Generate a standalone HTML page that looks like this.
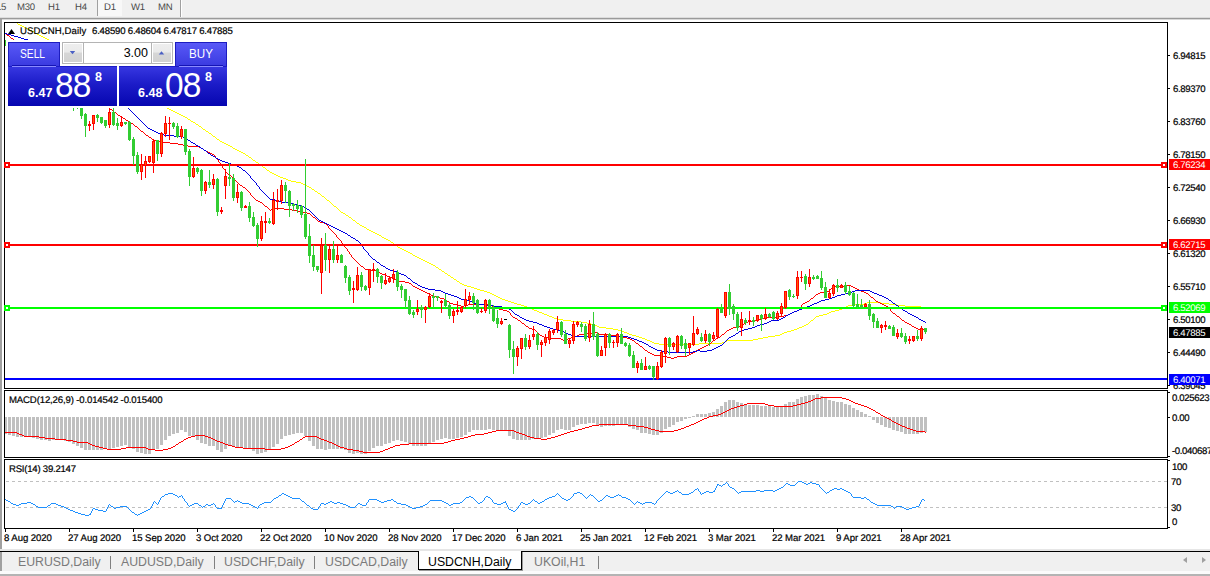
<!DOCTYPE html>
<html><head><meta charset="utf-8"><title>USDCNH,Daily</title>
<style>
html,body{margin:0;padding:0;background:#fff;overflow:hidden}
body{width:1210px;height:576px;position:relative;font-family:"Liberation Sans", sans-serif;}
.t{position:absolute;font-size:9.6px;line-height:11px;white-space:nowrap;color:#000;transform:skewX(0.05deg);-webkit-text-stroke:0.2px #000}
.pl{position:absolute;left:1169px;width:41px;height:11px;font-size:9.6px;line-height:11px;letter-spacing:-0.36px;text-indent:4px;white-space:nowrap;overflow:hidden}
.pl span{display:inline-block;text-indent:0;transform:skewX(0.05deg)}
.tb{position:absolute;left:0;top:0;width:1210px;height:17px;background:#f0f0f0}
.tb span{position:absolute;top:1px;transform:skewX(0.05deg);font-size:9.6px;line-height:11px;color:#4a4a4a;letter-spacing:-0.3px}
.tabs{position:absolute;left:0;top:552px;width:1210px;height:19px;background:#f0f0f0}
.tabs span{position:absolute;top:3px;font-size:12.3px;line-height:14px;color:#7a7a7a;white-space:nowrap}

.btn{position:absolute;background:linear-gradient(#5a5af8,#3a3ae0);box-shadow:inset 1px 1px 0 #1c1cc0, inset -1px 0 0 #1c1cc0}
.btn span{position:absolute;font-size:12.5px;line-height:14px;color:#fff;transform-origin:0 50%}
.spb{position:absolute;width:18px;height:18px;background:linear-gradient(#eeeeee 0,#eaeaea 45%,#d6d6d6 50%,#d2d2d2 100%)}
.pp{position:absolute;background:linear-gradient(#3838e2,#1c1cc8 45%,#0606b0);box-shadow:inset 0 1px 0 #1c1cc8;color:#fff}
.pp span{position:absolute;white-space:nowrap}
.s1{font-size:12.5px;line-height:14px;font-weight:bold}
.s2{font-size:33.5px;line-height:36px;letter-spacing:-1px;transform:scaleY(1.04);transform-origin:0 7px}
.s3{font-size:12.5px;line-height:12px;font-weight:bold}

</style></head><body>
<div class="tb">
<span style="left:-4px">15</span><span style="left:17px">M30</span><span style="left:48px">H1</span><span style="left:75px">H4</span>
<div style="position:absolute;left:97px;top:0;width:1px;height:16px;background:#a0a0a0"></div>
<div style="position:absolute;left:98px;top:0;width:24px;height:16px;background:#f8f8f8"></div>
<span style="left:103.5px">D1</span><span style="left:131px">W1</span><span style="left:158px">MN</span>
<div style="position:absolute;left:180px;top:0;width:1px;height:18px;background:#a0a0a0"></div>
<div style="position:absolute;left:181px;top:0;width:1px;height:18px;background:#fff"></div>
</div>
<div style="position:absolute;left:0;top:17px;width:1210px;height:1px;background:#dcdcdc"></div>
<div style="position:absolute;left:0;top:18px;width:1210px;height:1px;background:#9a9a9a"></div>
<div style="position:absolute;left:0;top:19px;width:1210px;height:1px;background:#d8d8d8"></div>
<div style="position:absolute;left:0;top:19px;width:2px;height:531px;background:#a0a0a0"></div>
<svg width="1210" height="576" viewBox="0 0 1210 576" shape-rendering="crispEdges" style="position:absolute;left:0;top:0"><clipPath id="cm"><rect x="5" y="23" width="1162" height="365"/></clipPath><g clip-path="url(#cm)">
<path d="M5 17h2v1h-2zM7 18h2v1h-2zM9 19h2v1h-2zM11 20h2v1h-2zM13 21h2v1h-2zM15 22h2v1h-2zM17 23h1v1h-1zM18 24h2v1h-2zM20 25h2v1h-2zM22 26h2v1h-2zM24 27h2v1h-2zM26 28h2v1h-2zM28 29h2v1h-2zM30 30h2v1h-2zM32 31h2v1h-2zM34 32h1v1h-1zM35 33h2v1h-2zM37 34h2v1h-2zM39 35h2v1h-2zM41 36h2v1h-2zM43 37h2v1h-2zM45 38h2v1h-2zM47 39h2v1h-2zM49 40h1v1h-1zM50 41h2v1h-2zM52 42h2v1h-2zM54 43h2v1h-2zM56 44h1v1h-1zM57 45h2v1h-2zM59 46h2v1h-2zM61 47h2v1h-2zM63 48h1v1h-1zM64 49h2v1h-2zM66 50h2v1h-2zM68 51h2v1h-2zM70 52h1v1h-1zM71 53h2v1h-2zM73 54h2v1h-2zM75 55h2v1h-2zM77 56h1v1h-1zM78 57h2v1h-2zM80 58h2v1h-2zM82 59h2v1h-2zM84 60h1v1h-1zM85 61h2v1h-2zM87 62h2v1h-2zM89 63h2v1h-2zM91 64h2v1h-2zM93 65h1v1h-1zM94 66h2v1h-2zM96 67h2v1h-2zM98 68h2v1h-2zM100 69h1v1h-1zM101 70h2v1h-2zM103 71h2v1h-2zM105 72h2v1h-2zM107 73h1v1h-1zM108 74h2v1h-2zM110 75h2v1h-2zM112 76h2v1h-2zM114 77h1v1h-1zM115 78h2v1h-2zM117 79h2v1h-2zM119 80h2v1h-2zM121 81h1v1h-1zM122 82h2v1h-2zM124 83h2v1h-2zM126 84h2v1h-2zM128 85h1v1h-1zM129 86h2v1h-2zM131 87h2v1h-2zM133 88h1v1h-1zM134 89h2v1h-2zM136 90h2v1h-2zM138 91h2v1h-2zM140 92h1v1h-1zM141 93h2v1h-2zM143 94h2v1h-2zM145 95h1v1h-1zM146 96h2v1h-2zM148 97h2v1h-2zM150 98h1v1h-1zM151 99h2v1h-2zM153 100h2v1h-2zM155 101h1v1h-1zM156 102h2v1h-2zM158 103h2v1h-2zM160 104h2v1h-2zM162 105h1v1h-1zM163 106h2v1h-2zM165 107h2v1h-2zM167 108h2v1h-2zM169 109h2v1h-2zM171 110h2v1h-2zM173 111h2v1h-2zM175 112h2v1h-2zM177 113h2v1h-2zM179 114h2v1h-2zM181 115h2v1h-2zM183 116h2v1h-2zM185 117h2v1h-2zM187 118h1v1h-1zM188 119h2v1h-2zM190 120h1v1h-1zM191 121h2v1h-2zM193 122h2v1h-2zM195 123h1v1h-1zM196 124h2v1h-2zM198 125h1v1h-1zM199 126h2v1h-2zM201 127h1v1h-1zM202 128h1v1h-1zM203 129h2v1h-2zM205 130h1v1h-1zM206 131h2v1h-2zM208 132h1v1h-1zM209 133h2v1h-2zM211 134h1v1h-1zM212 135h1v1h-1zM213 136h2v1h-2zM215 137h1v1h-1zM216 138h1v1h-1zM217 139h2v1h-2zM219 140h1v1h-1zM220 141h2v1h-2zM222 142h2v1h-2zM224 143h2v1h-2zM226 144h2v1h-2zM228 145h2v1h-2zM230 146h2v1h-2zM232 147h1v1h-1zM233 148h2v1h-2zM235 149h2v1h-2zM237 150h2v1h-2zM239 151h2v1h-2zM241 152h2v1h-2zM243 153h2v1h-2zM245 154h1v1h-1zM246 155h2v1h-2zM248 156h1v1h-1zM249 157h2v1h-2zM251 158h1v1h-1zM252 159h1v1h-1zM253 160h2v1h-2zM255 161h1v1h-1zM256 162h2v1h-2zM258 163h1v1h-1zM259 164h2v1h-2zM261 165h1v1h-1zM262 166h1v1h-1zM263 167h2v1h-2zM265 168h1v1h-1zM266 169h1v1h-1zM267 170h2v1h-2zM269 171h1v1h-1zM270 172h2v1h-2zM272 173h2v1h-2zM274 174h2v1h-2zM276 175h2v1h-2zM278 176h2v1h-2zM280 177h3v1h-3zM283 178h3v1h-3zM286 179h2v1h-2zM288 180h3v1h-3zM291 181h5v1h-5zM296 182h5v1h-5zM301 183h2v1h-2zM303 184h2v1h-2zM305 185h2v1h-2zM307 186h2v1h-2zM309 187h2v1h-2zM311 188h1v1h-1zM312 189h2v1h-2zM314 190h1v1h-1zM315 191h2v1h-2zM317 192h1v1h-1zM318 193h2v1h-2zM320 194h1v1h-1zM321 195h1v1h-1zM322 196h2v1h-2zM324 197h1v1h-1zM325 198h1v1h-1zM326 199h1v1h-1zM327 200h2v1h-2zM329 201h1v1h-1zM330 202h1v1h-1zM331 203h1v1h-1zM332 204h1v1h-1zM333 205h1v1h-1zM334 206h2v1h-2zM336 207h1v1h-1zM337 208h1v1h-1zM338 209h1v1h-1zM339 210h1v1h-1zM340 211h1v1h-1zM341 212h2v1h-2zM343 213h2v1h-2zM345 214h1v1h-1zM346 215h2v1h-2zM348 216h1v1h-1zM349 217h2v1h-2zM351 218h1v1h-1zM352 219h1v1h-1zM353 220h2v1h-2zM355 221h1v1h-1zM356 222h1v1h-1zM357 223h2v1h-2zM359 224h1v1h-1zM360 225h2v1h-2zM362 226h2v1h-2zM364 227h2v1h-2zM366 228h1v1h-1zM367 229h2v1h-2zM369 230h2v1h-2zM371 231h2v1h-2zM373 232h2v1h-2zM375 233h2v1h-2zM377 234h2v1h-2zM379 235h2v1h-2zM381 236h1v1h-1zM382 237h2v1h-2zM384 238h2v1h-2zM386 239h2v1h-2zM388 240h2v1h-2zM390 241h1v1h-1zM391 242h2v1h-2zM393 243h1v1h-1zM394 244h2v1h-2zM396 245h1v1h-1zM397 246h1v1h-1zM398 247h2v1h-2zM400 248h2v1h-2zM402 249h2v1h-2zM404 250h2v1h-2zM406 251h2v1h-2zM408 252h2v1h-2zM410 253h2v1h-2zM412 254h1v1h-1zM413 255h2v1h-2zM415 256h2v1h-2zM417 257h2v1h-2zM419 258h2v1h-2zM421 259h2v1h-2zM423 260h2v1h-2zM425 261h2v1h-2zM427 262h2v1h-2zM429 263h2v1h-2zM431 264h2v1h-2zM433 265h2v1h-2zM435 266h1v1h-1zM436 267h2v1h-2zM438 268h1v1h-1zM439 269h2v1h-2zM441 270h1v1h-1zM442 271h2v1h-2zM444 272h1v1h-1zM445 273h2v1h-2zM447 274h1v1h-1zM448 275h2v1h-2zM450 276h1v1h-1zM451 277h2v1h-2zM453 278h1v1h-1zM454 279h2v1h-2zM456 280h1v1h-1zM457 281h2v1h-2zM459 282h1v1h-1zM460 283h2v1h-2zM462 284h2v1h-2zM464 285h3v1h-3zM467 286h4v1h-4zM471 287h3v1h-3zM474 288h3v1h-3zM477 289h3v1h-3zM480 290h4v1h-4zM484 291h3v1h-3zM487 292h3v1h-3zM490 293h2v1h-2zM492 294h2v1h-2zM494 295h2v1h-2zM496 296h2v1h-2zM498 297h2v1h-2zM500 298h2v1h-2zM502 299h3v1h-3zM505 300h3v1h-3zM508 301h3v1h-3zM511 302h3v1h-3zM867 302h14v1h-14zM514 303h3v1h-3zM864 303h3v1h-3zM881 303h8v1h-8zM517 304h4v1h-4zM852 304h12v1h-12zM889 304h8v1h-8zM521 305h3v1h-3zM848 305h4v1h-4zM897 305h8v1h-8zM524 306h3v1h-3zM846 306h2v1h-2zM905 306h16v1h-16zM527 307h2v1h-2zM844 307h2v1h-2zM921 307h5v1h-5zM529 308h3v1h-3zM842 308h2v1h-2zM532 309h2v1h-2zM839 309h3v1h-3zM534 310h3v1h-3zM835 310h4v1h-4zM537 311h2v1h-2zM831 311h4v1h-4zM539 312h3v1h-3zM829 312h2v1h-2zM542 313h2v1h-2zM827 313h2v1h-2zM544 314h3v1h-3zM823 314h4v1h-4zM547 315h2v1h-2zM819 315h4v1h-4zM549 316h3v1h-3zM816 316h3v1h-3zM552 317h2v1h-2zM815 317h1v1h-1zM554 318h4v1h-4zM814 318h1v1h-1zM558 319h5v1h-5zM813 319h1v1h-1zM563 320h8v1h-8zM811 320h2v1h-2zM571 321h10v1h-10zM810 321h1v1h-1zM581 322h6v1h-6zM809 322h1v1h-1zM587 323h4v1h-4zM808 323h1v1h-1zM591 324h3v1h-3zM806 324h2v1h-2zM594 325h3v1h-3zM804 325h2v1h-2zM597 326h2v1h-2zM802 326h2v1h-2zM599 327h7v1h-7zM799 327h3v1h-3zM606 328h7v1h-7zM797 328h2v1h-2zM613 329h5v1h-5zM794 329h3v1h-3zM618 330h4v1h-4zM791 330h3v1h-3zM622 331h2v1h-2zM787 331h4v1h-4zM624 332h3v1h-3zM784 332h3v1h-3zM627 333h2v1h-2zM782 333h2v1h-2zM629 334h3v1h-3zM780 334h2v1h-2zM632 335h4v1h-4zM775 335h5v1h-5zM636 336h3v1h-3zM768 336h7v1h-7zM639 337h3v1h-3zM763 337h5v1h-5zM642 338h3v1h-3zM758 338h5v1h-5zM645 339h2v1h-2zM753 339h5v1h-5zM647 340h3v1h-3zM727 340h26v1h-26zM650 341h2v1h-2zM725 341h2v1h-2zM652 342h2v1h-2zM722 342h3v1h-3zM654 343h5v1h-5zM699 343h23v1h-23zM659 344h40v1h-40z" fill="#ffff00"/>
<path d="M5 33h1v1h-1zM6 34h1v1h-1zM7 35h2v1h-2zM9 36h1v1h-1zM10 37h1v1h-1zM11 38h2v1h-2zM13 39h1v1h-1zM14 40h1v1h-1zM15 41h2v1h-2zM17 42h1v1h-1zM18 43h1v1h-1zM19 44h2v1h-2zM21 45h1v1h-1zM22 46h1v1h-1zM23 47h2v1h-2zM25 48h1v1h-1zM26 49h2v1h-2zM28 50h1v1h-1zM29 51h1v1h-1zM30 52h2v1h-2zM32 53h1v1h-1zM33 54h1v1h-1zM34 55h2v1h-2zM36 56h1v1h-1zM37 57h2v1h-2zM39 58h1v1h-1zM40 59h1v1h-1zM41 60h2v1h-2zM43 61h1v1h-1zM44 62h1v1h-1zM45 63h2v1h-2zM47 64h1v1h-1zM48 65h2v1h-2zM50 66h1v1h-1zM51 67h1v1h-1zM52 68h2v1h-2zM54 69h1v1h-1zM55 70h1v1h-1zM56 71h2v1h-2zM58 72h1v1h-1zM59 73h2v1h-2zM61 74h1v1h-1zM62 75h1v1h-1zM63 76h2v1h-2zM65 77h1v1h-1zM66 78h1v1h-1zM67 79h2v1h-2zM69 80h1v1h-1zM70 81h2v1h-2zM72 82h1v1h-1zM73 83h1v1h-1zM74 84h2v1h-2zM76 85h1v1h-1zM77 86h1v1h-1zM78 87h2v1h-2zM80 88h1v1h-1zM81 89h2v1h-2zM83 90h1v1h-1zM84 91h2v1h-2zM86 92h1v1h-1zM87 93h1v1h-1zM88 94h2v1h-2zM90 95h1v1h-1zM91 96h2v1h-2zM93 97h1v1h-1zM94 98h2v1h-2zM96 99h1v1h-1zM97 100h2v1h-2zM99 101h1v1h-1zM100 102h2v1h-2zM102 103h1v1h-1zM103 104h1v1h-1zM104 105h2v1h-2zM106 106h1v1h-1zM107 107h2v1h-2zM109 108h1v1h-1zM110 109h2v1h-2zM112 110h1v1h-1zM113 111h1v1h-1zM114 112h2v1h-2zM116 113h1v1h-1zM117 114h1v1h-1zM118 115h2v1h-2zM120 116h1v1h-1zM121 117h2v1h-2zM123 118h2v1h-2zM125 119h1v1h-1zM126 120h2v1h-2zM128 121h2v1h-2zM130 122h1v1h-1zM131 123h2v1h-2zM133 124h1v1h-1zM134 125h1v1h-1zM135 126h2v1h-2zM137 127h1v1h-1zM138 128h1v1h-1zM139 129h1v1h-1zM140 130h1v1h-1zM141 131h2v1h-2zM143 132h1v1h-1zM144 133h1v1h-1zM145 134h1v1h-1zM146 135h2v1h-2zM148 136h1v1h-1zM149 137h2v1h-2zM151 138h1v1h-1zM152 139h2v1h-2zM154 140h2v1h-2zM156 141h4v1h-4zM160 142h10v1h-10zM170 143h8v1h-8zM178 144h5v1h-5zM183 145h5v1h-5zM188 146h11v1h-11zM199 147h2v1h-2zM201 148h2v1h-2zM203 149h1v1h-1zM204 150h2v1h-2zM206 151h2v1h-2zM208 152h2v1h-2zM210 153h2v1h-2zM212 154h2v1h-2zM214 155h1v1h-1zM215 156h1v1h-1zM215 157h1v1h-1zM216 158h1v1h-1zM217 159h1v1h-1zM218 160h1v1h-1zM218 161h1v1h-1zM219 162h1v1h-1zM220 163h1v1h-1zM220 164h1v1h-1zM221 165h1v1h-1zM222 166h1v1h-1zM222 167h1v1h-1zM223 168h1v1h-1zM224 169h1v1h-1zM225 170h1v1h-1zM225 171h1v1h-1zM226 172h1v1h-1zM227 173h1v1h-1zM228 174h2v1h-2zM230 175h1v1h-1zM231 176h1v1h-1zM232 177h1v1h-1zM233 178h1v1h-1zM234 179h1v1h-1zM235 180h1v1h-1zM236 181h1v1h-1zM237 182h1v1h-1zM238 183h1v1h-1zM239 184h1v1h-1zM240 185h2v1h-2zM242 186h1v1h-1zM243 187h2v1h-2zM245 188h1v1h-1zM246 189h1v1h-1zM247 190h1v1h-1zM248 191h1v1h-1zM249 192h1v1h-1zM250 193h1v1h-1zM250 194h1v1h-1zM251 195h1v1h-1zM252 196h1v1h-1zM253 197h1v1h-1zM254 198h1v1h-1zM255 199h1v1h-1zM256 200h2v1h-2zM258 201h2v1h-2zM260 202h2v1h-2zM262 203h1v1h-1zM263 204h1v1h-1zM264 205h1v1h-1zM265 206h2v1h-2zM267 207h1v1h-1zM268 208h1v1h-1zM272 208h12v1h-12zM269 209h1v1h-1zM271 209h1v1h-1zM284 209h8v1h-8zM270 210h1v1h-1zM292 210h5v1h-5zM297 211h6v1h-6zM303 212h4v1h-4zM307 213h3v1h-3zM310 214h1v1h-1zM311 215h1v1h-1zM312 216h1v1h-1zM313 217h2v1h-2zM315 218h1v1h-1zM316 219h1v1h-1zM317 220h1v1h-1zM318 221h2v1h-2zM320 222h4v1h-4zM324 223h2v1h-2zM326 224h1v1h-1zM327 225h1v1h-1zM328 226h1v1h-1zM328 227h1v1h-1zM329 228h1v1h-1zM330 229h1v1h-1zM331 230h1v1h-1zM332 231h1v1h-1zM333 232h1v1h-1zM334 233h1v1h-1zM335 234h1v1h-1zM336 235h1v1h-1zM336 236h1v1h-1zM337 237h1v1h-1zM338 238h1v1h-1zM339 239h1v1h-1zM340 240h1v1h-1zM341 241h1v1h-1zM341 242h1v1h-1zM342 243h1v1h-1zM343 244h1v1h-1zM344 245h1v1h-1zM344 246h1v1h-1zM345 247h1v1h-1zM346 248h1v1h-1zM347 249h1v1h-1zM347 250h1v1h-1zM348 251h1v1h-1zM349 252h1v1h-1zM349 253h1v1h-1zM350 254h1v1h-1zM351 255h1v1h-1zM351 256h1v1h-1zM352 257h1v1h-1zM353 258h1v1h-1zM354 259h1v1h-1zM355 260h1v1h-1zM356 261h1v1h-1zM357 262h1v1h-1zM358 263h1v1h-1zM359 264h1v1h-1zM360 265h1v1h-1zM361 266h2v1h-2zM363 267h1v1h-1zM364 268h1v1h-1zM365 269h6v1h-6zM371 270h5v1h-5zM376 271h2v1h-2zM378 272h2v1h-2zM380 273h2v1h-2zM382 274h3v1h-3zM385 275h2v1h-2zM387 276h3v1h-3zM390 277h2v1h-2zM392 278h2v1h-2zM394 279h3v1h-3zM397 280h2v1h-2zM399 281h6v1h-6zM405 282h4v1h-4zM409 283h2v1h-2zM411 284h1v1h-1zM412 285h1v1h-1zM846 285h5v1h-5zM413 286h2v1h-2zM834 286h12v1h-12zM851 286h2v1h-2zM415 287h2v1h-2zM833 287h1v1h-1zM853 287h2v1h-2zM417 288h2v1h-2zM831 288h2v1h-2zM855 288h2v1h-2zM419 289h2v1h-2zM830 289h1v1h-1zM857 289h2v1h-2zM421 290h2v1h-2zM829 290h1v1h-1zM859 290h2v1h-2zM423 291h2v1h-2zM827 291h2v1h-2zM861 291h3v1h-3zM425 292h2v1h-2zM820 292h7v1h-7zM864 292h2v1h-2zM427 293h2v1h-2zM818 293h2v1h-2zM866 293h2v1h-2zM429 294h2v1h-2zM816 294h2v1h-2zM868 294h1v1h-1zM431 295h3v1h-3zM815 295h1v1h-1zM869 295h1v1h-1zM434 296h3v1h-3zM814 296h1v1h-1zM870 296h1v1h-1zM437 297h3v1h-3zM813 297h1v1h-1zM871 297h2v1h-2zM440 298h4v1h-4zM811 298h2v1h-2zM873 298h1v1h-1zM444 299h2v1h-2zM810 299h1v1h-1zM874 299h1v1h-1zM446 300h1v1h-1zM809 300h1v1h-1zM875 300h1v1h-1zM447 301h2v1h-2zM807 301h2v1h-2zM876 301h2v1h-2zM449 302h1v1h-1zM805 302h2v1h-2zM878 302h2v1h-2zM450 303h3v1h-3zM803 303h2v1h-2zM880 303h2v1h-2zM453 304h4v1h-4zM468 304h22v1h-22zM802 304h1v1h-1zM882 304h2v1h-2zM457 305h4v1h-4zM464 305h4v1h-4zM490 305h2v1h-2zM801 305h1v1h-1zM884 305h2v1h-2zM461 306h3v1h-3zM492 306h2v1h-2zM801 306h1v1h-1zM886 306h2v1h-2zM494 307h3v1h-3zM800 307h1v1h-1zM888 307h1v1h-1zM497 308h2v1h-2zM799 308h1v1h-1zM889 308h1v1h-1zM499 309h4v1h-4zM799 309h1v1h-1zM890 309h1v1h-1zM503 310h4v1h-4zM797 310h2v1h-2zM890 310h1v1h-1zM507 311h2v1h-2zM794 311h3v1h-3zM891 311h1v1h-1zM509 312h1v1h-1zM792 312h2v1h-2zM892 312h1v1h-1zM510 313h1v1h-1zM790 313h2v1h-2zM893 313h2v1h-2zM510 314h1v1h-1zM788 314h2v1h-2zM895 314h1v1h-1zM511 315h1v1h-1zM784 315h4v1h-4zM896 315h1v1h-1zM512 316h1v1h-1zM778 316h6v1h-6zM897 316h2v1h-2zM513 317h2v1h-2zM767 317h11v1h-11zM899 317h1v1h-1zM515 318h2v1h-2zM761 318h6v1h-6zM900 318h1v1h-1zM517 319h1v1h-1zM757 319h4v1h-4zM901 319h1v1h-1zM518 320h2v1h-2zM752 320h5v1h-5zM902 320h2v1h-2zM520 321h1v1h-1zM748 321h4v1h-4zM904 321h1v1h-1zM521 322h1v1h-1zM746 322h2v1h-2zM905 322h2v1h-2zM522 323h2v1h-2zM744 323h2v1h-2zM907 323h2v1h-2zM524 324h1v1h-1zM742 324h2v1h-2zM909 324h2v1h-2zM525 325h1v1h-1zM740 325h2v1h-2zM911 325h1v1h-1zM526 326h2v1h-2zM737 326h3v1h-3zM912 326h2v1h-2zM528 327h1v1h-1zM733 327h4v1h-4zM914 327h2v1h-2zM529 328h3v1h-3zM731 328h2v1h-2zM916 328h2v1h-2zM532 329h3v1h-3zM729 329h2v1h-2zM918 329h8v1h-8zM535 330h1v1h-1zM727 330h2v1h-2zM536 331h1v1h-1zM726 331h1v1h-1zM537 332h1v1h-1zM592 332h5v1h-5zM725 332h1v1h-1zM538 333h1v1h-1zM585 333h7v1h-7zM597 333h2v1h-2zM724 333h1v1h-1zM539 334h1v1h-1zM579 334h6v1h-6zM599 334h12v1h-12zM722 334h2v1h-2zM540 335h2v1h-2zM577 335h2v1h-2zM611 335h5v1h-5zM721 335h1v1h-1zM542 336h2v1h-2zM574 336h3v1h-3zM616 336h6v1h-6zM720 336h1v1h-1zM544 337h4v1h-4zM571 337h3v1h-3zM622 337h5v1h-5zM718 337h2v1h-2zM548 338h13v1h-13zM568 338h3v1h-3zM627 338h3v1h-3zM716 338h2v1h-2zM561 339h2v1h-2zM566 339h2v1h-2zM630 339h2v1h-2zM715 339h1v1h-1zM563 340h3v1h-3zM632 340h2v1h-2zM713 340h2v1h-2zM634 341h1v1h-1zM712 341h1v1h-1zM635 342h1v1h-1zM711 342h1v1h-1zM636 343h2v1h-2zM709 343h2v1h-2zM638 344h1v1h-1zM708 344h1v1h-1zM639 345h1v1h-1zM706 345h2v1h-2zM640 346h2v1h-2zM704 346h2v1h-2zM642 347h1v1h-1zM702 347h2v1h-2zM643 348h1v1h-1zM700 348h2v1h-2zM644 349h1v1h-1zM698 349h2v1h-2zM645 350h2v1h-2zM696 350h2v1h-2zM647 351h1v1h-1zM695 351h1v1h-1zM648 352h2v1h-2zM693 352h2v1h-2zM650 353h2v1h-2zM691 353h2v1h-2zM652 354h2v1h-2zM689 354h2v1h-2zM654 355h7v1h-7zM687 355h2v1h-2zM661 356h6v1h-6zM677 356h10v1h-10zM667 357h4v1h-4zM674 357h3v1h-3zM671 358h3v1h-3z" fill="#ff0000"/>
<path d="M5 33h2v1h-2zM7 34h4v1h-4zM11 35h3v1h-3zM14 36h4v1h-4zM18 37h3v1h-3zM21 38h3v1h-3zM24 39h4v1h-4zM28 40h2v1h-2zM30 41h2v1h-2zM32 42h1v1h-1zM33 43h2v1h-2zM35 44h1v1h-1zM36 45h1v1h-1zM37 46h2v1h-2zM39 47h1v1h-1zM40 48h2v1h-2zM42 49h1v1h-1zM43 50h2v1h-2zM45 51h1v1h-1zM46 52h2v1h-2zM48 53h1v1h-1zM49 54h2v1h-2zM51 55h1v1h-1zM52 56h1v1h-1zM53 57h2v1h-2zM55 58h1v1h-1zM56 59h2v1h-2zM58 60h1v1h-1zM59 61h2v1h-2zM61 62h1v1h-1zM62 63h2v1h-2zM64 64h1v1h-1zM65 65h1v1h-1zM66 66h2v1h-2zM68 67h1v1h-1zM69 68h2v1h-2zM71 69h1v1h-1zM72 70h2v1h-2zM74 71h1v1h-1zM75 72h2v1h-2zM77 73h1v1h-1zM78 74h1v1h-1zM79 75h2v1h-2zM81 76h1v1h-1zM82 77h2v1h-2zM84 78h1v1h-1zM85 79h2v1h-2zM87 80h1v1h-1zM88 81h2v1h-2zM90 82h1v1h-1zM91 83h2v1h-2zM93 84h1v1h-1zM94 85h1v1h-1zM95 86h2v1h-2zM97 87h1v1h-1zM98 88h2v1h-2zM100 89h1v1h-1zM101 90h2v1h-2zM103 91h1v1h-1zM104 92h2v1h-2zM106 93h1v1h-1zM107 94h2v1h-2zM109 95h1v1h-1zM110 96h2v1h-2zM112 97h1v1h-1zM113 98h2v1h-2zM115 99h1v1h-1zM116 100h1v1h-1zM117 101h2v1h-2zM119 102h1v1h-1zM120 103h2v1h-2zM122 104h1v1h-1zM123 105h2v1h-2zM125 106h1v1h-1zM126 107h2v1h-2zM128 108h1v1h-1zM129 109h1v1h-1zM130 110h1v1h-1zM131 111h1v1h-1zM132 112h1v1h-1zM133 113h1v1h-1zM134 114h1v1h-1zM135 115h1v1h-1zM136 116h1v1h-1zM137 117h1v1h-1zM138 118h1v1h-1zM139 119h1v1h-1zM140 120h1v1h-1zM141 121h1v1h-1zM142 122h1v1h-1zM143 123h1v1h-1zM144 124h1v1h-1zM145 125h1v1h-1zM146 126h1v1h-1zM147 127h1v1h-1zM148 128h2v1h-2zM150 129h2v1h-2zM152 130h2v1h-2zM154 131h2v1h-2zM156 132h2v1h-2zM158 133h3v1h-3zM161 134h3v1h-3zM164 135h10v1h-10zM174 136h9v1h-9zM183 137h2v1h-2zM185 138h1v1h-1zM186 139h2v1h-2zM188 140h2v1h-2zM190 141h1v1h-1zM191 142h2v1h-2zM193 143h2v1h-2zM195 144h1v1h-1zM196 145h2v1h-2zM198 146h2v1h-2zM200 147h1v1h-1zM201 148h2v1h-2zM203 149h1v1h-1zM204 150h2v1h-2zM206 151h1v1h-1zM207 152h1v1h-1zM208 153h2v1h-2zM210 154h1v1h-1zM211 155h2v1h-2zM213 156h2v1h-2zM215 157h1v1h-1zM216 158h2v1h-2zM218 159h2v1h-2zM220 160h2v1h-2zM222 161h3v1h-3zM225 162h3v1h-3zM228 163h3v1h-3zM231 164h3v1h-3zM234 165h3v1h-3zM237 166h2v1h-2zM239 167h2v1h-2zM241 168h1v1h-1zM242 169h1v1h-1zM243 170h2v1h-2zM245 171h1v1h-1zM246 172h1v1h-1zM247 173h1v1h-1zM248 174h1v1h-1zM249 175h1v1h-1zM250 176h1v1h-1zM250 177h1v1h-1zM251 178h1v1h-1zM252 179h1v1h-1zM253 180h1v1h-1zM254 181h1v1h-1zM255 182h1v1h-1zM256 183h1v1h-1zM256 184h1v1h-1zM257 185h1v1h-1zM258 186h1v1h-1zM259 187h1v1h-1zM259 188h1v1h-1zM260 189h1v1h-1zM261 190h1v1h-1zM262 191h1v1h-1zM263 192h1v1h-1zM264 193h1v1h-1zM265 194h1v1h-1zM266 195h1v1h-1zM267 196h1v1h-1zM268 197h1v1h-1zM269 198h1v1h-1zM270 199h5v1h-5zM275 200h4v1h-4zM279 201h2v1h-2zM281 202h10v1h-10zM291 203h2v1h-2zM293 204h4v1h-4zM297 205h4v1h-4zM301 206h3v1h-3zM304 207h2v1h-2zM306 208h1v1h-1zM307 209h2v1h-2zM309 210h1v1h-1zM310 211h1v1h-1zM311 212h1v1h-1zM312 213h1v1h-1zM313 214h1v1h-1zM314 215h1v1h-1zM315 216h1v1h-1zM316 217h1v1h-1zM317 218h1v1h-1zM318 219h1v1h-1zM319 220h2v1h-2zM321 221h2v1h-2zM323 222h2v1h-2zM325 223h2v1h-2zM327 224h2v1h-2zM329 225h2v1h-2zM331 226h2v1h-2zM333 227h2v1h-2zM335 228h2v1h-2zM337 229h2v1h-2zM339 230h2v1h-2zM341 231h2v1h-2zM343 232h2v1h-2zM345 233h2v1h-2zM347 234h1v1h-1zM348 235h2v1h-2zM350 236h1v1h-1zM351 237h2v1h-2zM353 238h2v1h-2zM355 239h1v1h-1zM356 240h2v1h-2zM358 241h1v1h-1zM359 242h1v1h-1zM360 243h1v1h-1zM360 244h1v1h-1zM361 245h1v1h-1zM362 246h1v1h-1zM363 247h1v1h-1zM363 248h1v1h-1zM364 249h1v1h-1zM365 250h1v1h-1zM366 251h1v1h-1zM367 252h1v1h-1zM368 253h1v1h-1zM368 254h1v1h-1zM369 255h1v1h-1zM370 256h1v1h-1zM371 257h1v1h-1zM372 258h1v1h-1zM373 259h2v1h-2zM375 260h1v1h-1zM376 261h1v1h-1zM377 262h2v1h-2zM379 263h1v1h-1zM380 264h1v1h-1zM381 265h2v1h-2zM383 266h2v1h-2zM385 267h1v1h-1zM386 268h2v1h-2zM388 269h2v1h-2zM390 270h4v1h-4zM394 271h3v1h-3zM397 272h2v1h-2zM399 273h2v1h-2zM401 274h3v1h-3zM404 275h2v1h-2zM406 276h1v1h-1zM407 277h1v1h-1zM408 278h2v1h-2zM410 279h1v1h-1zM411 280h1v1h-1zM412 281h1v1h-1zM413 282h2v1h-2zM415 283h2v1h-2zM417 284h1v1h-1zM418 285h2v1h-2zM420 286h2v1h-2zM422 287h3v1h-3zM425 288h3v1h-3zM428 289h7v1h-7zM435 290h6v1h-6zM855 290h15v1h-15zM441 291h2v1h-2zM852 291h3v1h-3zM870 291h2v1h-2zM443 292h2v1h-2zM849 292h3v1h-3zM872 292h2v1h-2zM445 293h3v1h-3zM845 293h4v1h-4zM874 293h3v1h-3zM448 294h3v1h-3zM841 294h4v1h-4zM877 294h2v1h-2zM451 295h3v1h-3zM837 295h4v1h-4zM879 295h3v1h-3zM454 296h3v1h-3zM835 296h2v1h-2zM882 296h2v1h-2zM457 297h2v1h-2zM832 297h3v1h-3zM884 297h2v1h-2zM459 298h2v1h-2zM829 298h3v1h-3zM886 298h2v1h-2zM461 299h4v1h-4zM825 299h4v1h-4zM888 299h1v1h-1zM465 300h5v1h-5zM821 300h4v1h-4zM889 300h2v1h-2zM470 301h2v1h-2zM819 301h2v1h-2zM891 301h1v1h-1zM472 302h2v1h-2zM817 302h2v1h-2zM892 302h1v1h-1zM474 303h5v1h-5zM814 303h3v1h-3zM893 303h2v1h-2zM479 304h7v1h-7zM812 304h2v1h-2zM895 304h1v1h-1zM486 305h7v1h-7zM810 305h2v1h-2zM896 305h2v1h-2zM493 306h9v1h-9zM807 306h3v1h-3zM898 306h1v1h-1zM502 307h4v1h-4zM805 307h2v1h-2zM899 307h1v1h-1zM506 308h3v1h-3zM802 308h3v1h-3zM900 308h2v1h-2zM509 309h2v1h-2zM799 309h3v1h-3zM902 309h1v1h-1zM511 310h1v1h-1zM797 310h2v1h-2zM903 310h2v1h-2zM512 311h1v1h-1zM794 311h3v1h-3zM905 311h2v1h-2zM513 312h1v1h-1zM792 312h2v1h-2zM907 312h1v1h-1zM514 313h1v1h-1zM790 313h2v1h-2zM908 313h2v1h-2zM515 314h2v1h-2zM788 314h2v1h-2zM910 314h2v1h-2zM517 315h2v1h-2zM786 315h2v1h-2zM912 315h2v1h-2zM519 316h1v1h-1zM785 316h1v1h-1zM914 316h2v1h-2zM520 317h2v1h-2zM783 317h2v1h-2zM916 317h2v1h-2zM522 318h2v1h-2zM781 318h2v1h-2zM918 318h1v1h-1zM524 319h2v1h-2zM779 319h2v1h-2zM919 319h2v1h-2zM526 320h3v1h-3zM771 320h8v1h-8zM921 320h2v1h-2zM529 321h4v1h-4zM769 321h2v1h-2zM923 321h2v1h-2zM533 322h4v1h-4zM767 322h2v1h-2zM925 322h1v1h-1zM537 323h2v1h-2zM764 323h3v1h-3zM539 324h3v1h-3zM760 324h4v1h-4zM542 325h2v1h-2zM757 325h3v1h-3zM544 326h3v1h-3zM755 326h2v1h-2zM547 327h3v1h-3zM752 327h3v1h-3zM550 328h3v1h-3zM748 328h4v1h-4zM553 329h4v1h-4zM744 329h4v1h-4zM557 330h4v1h-4zM741 330h3v1h-3zM561 331h3v1h-3zM739 331h2v1h-2zM564 332h2v1h-2zM738 332h1v1h-1zM566 333h2v1h-2zM736 333h2v1h-2zM568 334h3v1h-3zM735 334h1v1h-1zM571 335h4v1h-4zM733 335h2v1h-2zM575 336h53v1h-53zM731 336h2v1h-2zM628 337h3v1h-3zM729 337h2v1h-2zM631 338h3v1h-3zM728 338h1v1h-1zM634 339h3v1h-3zM727 339h1v1h-1zM637 340h2v1h-2zM726 340h1v1h-1zM639 341h3v1h-3zM725 341h1v1h-1zM642 342h2v1h-2zM724 342h1v1h-1zM644 343h2v1h-2zM723 343h1v1h-1zM646 344h2v1h-2zM722 344h1v1h-1zM648 345h1v1h-1zM720 345h2v1h-2zM649 346h2v1h-2zM718 346h2v1h-2zM651 347h2v1h-2zM716 347h2v1h-2zM653 348h2v1h-2zM714 348h2v1h-2zM655 349h2v1h-2zM712 349h2v1h-2zM657 350h4v1h-4zM697 350h3v1h-3zM707 350h5v1h-5zM661 351h7v1h-7zM693 351h4v1h-4zM700 351h7v1h-7zM668 352h25v1h-25z" fill="#0000e0"/>
</g>
<rect x="5" y="164" width="1162" height="2" fill="#ff0000"/>
<rect x="5" y="244" width="1162" height="2" fill="#ff0000"/>
<rect x="5" y="307" width="1162" height="2" fill="#00ff00"/>
<rect x="5" y="378" width="1162" height="2" fill="#0000ff"/>
<g clip-path="url(#cm)">
<g><rect x="5" y="40" width="1" height="6" fill="#32cd32"/><rect x="4" y="40" width="3" height="6" fill="#32cd32"/><rect x="73" y="100" width="1" height="11" fill="#32cd32"/><rect x="72" y="100" width="3" height="5" fill="#32cd32"/><rect x="77" y="100" width="1" height="9" fill="#32cd32"/><rect x="76" y="100" width="3" height="7" fill="#32cd32"/><rect x="81" y="100" width="1" height="19" fill="#32cd32"/><rect x="80" y="100" width="3" height="16" fill="#32cd32"/><rect x="85" y="113" width="1" height="24" fill="#32cd32"/><rect x="84" y="114" width="3" height="12" fill="#32cd32"/><rect x="89" y="121" width="1" height="10" fill="#ff0000"/><rect x="88" y="124" width="3" height="2" fill="#ff0000"/><rect x="93" y="115" width="1" height="15" fill="#ff0000"/><rect x="92" y="115" width="3" height="9" fill="#ff0000"/><rect x="93" y="116" width="1" height="7" fill="#ff5a00"/><rect x="97" y="114" width="1" height="8" fill="#32cd32"/><rect x="96" y="115" width="3" height="3" fill="#32cd32"/><rect x="101" y="117" width="1" height="7" fill="#32cd32"/><rect x="100" y="117" width="3" height="6" fill="#32cd32"/><rect x="105" y="120" width="1" height="8" fill="#32cd32"/><rect x="104" y="120" width="3" height="6" fill="#32cd32"/><rect x="109" y="100" width="1" height="28" fill="#ff0000"/><rect x="108" y="112" width="3" height="13" fill="#ff0000"/><rect x="109" y="113" width="1" height="11" fill="#ff5a00"/><rect x="113" y="100" width="1" height="26" fill="#32cd32"/><rect x="112" y="112" width="3" height="13" fill="#32cd32"/><rect x="117" y="118" width="1" height="12" fill="#32cd32"/><rect x="116" y="123" width="3" height="3" fill="#32cd32"/><rect x="121" y="116" width="1" height="11" fill="#ff0000"/><rect x="120" y="122" width="3" height="4" fill="#ff0000"/><rect x="121" y="123" width="1" height="2" fill="#ff5a00"/><rect x="125" y="122" width="1" height="3" fill="#32cd32"/><rect x="124" y="122" width="3" height="2" fill="#32cd32"/><rect x="129" y="121" width="1" height="20" fill="#32cd32"/><rect x="128" y="122" width="3" height="18" fill="#32cd32"/><rect x="133" y="137" width="1" height="28" fill="#32cd32"/><rect x="132" y="139" width="3" height="17" fill="#32cd32"/><rect x="137" y="152" width="1" height="22" fill="#32cd32"/><rect x="136" y="155" width="3" height="17" fill="#32cd32"/><rect x="141" y="154" width="1" height="26" fill="#ff0000"/><rect x="140" y="164" width="3" height="8" fill="#ff0000"/><rect x="141" y="165" width="1" height="6" fill="#ff5a00"/><rect x="145" y="156" width="1" height="22" fill="#ff0000"/><rect x="144" y="161" width="3" height="5" fill="#ff0000"/><rect x="145" y="162" width="1" height="3" fill="#ff5a00"/><rect x="149" y="156" width="1" height="7" fill="#ff0000"/><rect x="148" y="156" width="3" height="6" fill="#ff0000"/><rect x="149" y="157" width="1" height="4" fill="#ff5a00"/><rect x="153" y="140" width="1" height="33" fill="#ff0000"/><rect x="152" y="141" width="3" height="22" fill="#ff0000"/><rect x="153" y="142" width="1" height="20" fill="#ff5a00"/><rect x="157" y="140" width="1" height="21" fill="#32cd32"/><rect x="156" y="140" width="3" height="14" fill="#32cd32"/><rect x="161" y="132" width="1" height="25" fill="#ff0000"/><rect x="160" y="133" width="3" height="21" fill="#ff0000"/><rect x="161" y="134" width="1" height="19" fill="#ff5a00"/><rect x="165" y="116" width="1" height="21" fill="#ff0000"/><rect x="164" y="123" width="3" height="11" fill="#ff0000"/><rect x="165" y="124" width="1" height="9" fill="#ff5a00"/><rect x="169" y="117" width="1" height="23" fill="#ff0000"/><rect x="168" y="123" width="3" height="1" fill="#ff0000"/><rect x="173" y="122" width="1" height="7" fill="#32cd32"/><rect x="172" y="123" width="3" height="4" fill="#32cd32"/><rect x="177" y="123" width="1" height="15" fill="#32cd32"/><rect x="176" y="126" width="3" height="11" fill="#32cd32"/><rect x="181" y="126" width="1" height="13" fill="#ff0000"/><rect x="180" y="129" width="3" height="8" fill="#ff0000"/><rect x="181" y="130" width="1" height="6" fill="#ff5a00"/><rect x="185" y="129" width="1" height="26" fill="#32cd32"/><rect x="184" y="129" width="3" height="23" fill="#32cd32"/><rect x="189" y="149" width="1" height="37" fill="#32cd32"/><rect x="188" y="151" width="3" height="26" fill="#32cd32"/><rect x="193" y="157" width="1" height="21" fill="#ff0000"/><rect x="192" y="168" width="3" height="9" fill="#ff0000"/><rect x="193" y="169" width="1" height="7" fill="#ff5a00"/><rect x="197" y="167" width="1" height="7" fill="#32cd32"/><rect x="196" y="168" width="3" height="4" fill="#32cd32"/><rect x="201" y="169" width="1" height="27" fill="#32cd32"/><rect x="200" y="170" width="3" height="21" fill="#32cd32"/><rect x="205" y="181" width="1" height="13" fill="#ff0000"/><rect x="204" y="182" width="3" height="9" fill="#ff0000"/><rect x="205" y="183" width="1" height="7" fill="#ff5a00"/><rect x="209" y="170" width="1" height="18" fill="#32cd32"/><rect x="208" y="182" width="3" height="3" fill="#32cd32"/><rect x="213" y="174" width="1" height="15" fill="#ff0000"/><rect x="212" y="179" width="3" height="6" fill="#ff0000"/><rect x="213" y="180" width="1" height="4" fill="#ff5a00"/><rect x="217" y="178" width="1" height="38" fill="#32cd32"/><rect x="216" y="179" width="3" height="33" fill="#32cd32"/><rect x="221" y="207" width="1" height="7" fill="#ff0000"/><rect x="220" y="210" width="3" height="2" fill="#ff0000"/><rect x="225" y="169" width="1" height="30" fill="#ff0000"/><rect x="224" y="176" width="3" height="10" fill="#ff0000"/><rect x="225" y="177" width="1" height="8" fill="#ff5a00"/><rect x="229" y="163" width="1" height="23" fill="#32cd32"/><rect x="228" y="177" width="3" height="2" fill="#32cd32"/><rect x="233" y="174" width="1" height="27" fill="#32cd32"/><rect x="232" y="178" width="3" height="20" fill="#32cd32"/><rect x="237" y="184" width="1" height="19" fill="#ff0000"/><rect x="236" y="192" width="3" height="6" fill="#ff0000"/><rect x="237" y="193" width="1" height="4" fill="#ff5a00"/><rect x="241" y="191" width="1" height="20" fill="#32cd32"/><rect x="240" y="192" width="3" height="16" fill="#32cd32"/><rect x="245" y="205" width="1" height="3" fill="#ff0000"/><rect x="244" y="206" width="3" height="2" fill="#ff0000"/><rect x="249" y="202" width="1" height="20" fill="#32cd32"/><rect x="248" y="206" width="3" height="12" fill="#32cd32"/><rect x="253" y="212" width="1" height="15" fill="#32cd32"/><rect x="252" y="217" width="3" height="9" fill="#32cd32"/><rect x="257" y="223" width="1" height="24" fill="#32cd32"/><rect x="256" y="225" width="3" height="14" fill="#32cd32"/><rect x="261" y="216" width="1" height="25" fill="#ff0000"/><rect x="260" y="221" width="3" height="18" fill="#ff0000"/><rect x="261" y="222" width="1" height="16" fill="#ff5a00"/><rect x="265" y="212" width="1" height="21" fill="#ff0000"/><rect x="264" y="221" width="3" height="2" fill="#ff0000"/><rect x="269" y="218" width="1" height="6" fill="#32cd32"/><rect x="268" y="221" width="3" height="2" fill="#32cd32"/><rect x="273" y="192" width="1" height="33" fill="#ff0000"/><rect x="272" y="200" width="3" height="24" fill="#ff0000"/><rect x="273" y="201" width="1" height="22" fill="#ff5a00"/><rect x="277" y="189" width="1" height="21" fill="#ff0000"/><rect x="276" y="200" width="3" height="2" fill="#ff0000"/><rect x="281" y="180" width="1" height="24" fill="#ff0000"/><rect x="280" y="185" width="3" height="16" fill="#ff0000"/><rect x="281" y="186" width="1" height="14" fill="#ff5a00"/><rect x="285" y="182" width="1" height="21" fill="#32cd32"/><rect x="284" y="185" width="3" height="6" fill="#32cd32"/><rect x="289" y="190" width="1" height="27" fill="#32cd32"/><rect x="288" y="191" width="3" height="15" fill="#32cd32"/><rect x="293" y="203" width="1" height="8" fill="#32cd32"/><rect x="292" y="204" width="3" height="2" fill="#32cd32"/><rect x="297" y="200" width="1" height="13" fill="#32cd32"/><rect x="296" y="205" width="3" height="4" fill="#32cd32"/><rect x="301" y="205" width="1" height="13" fill="#32cd32"/><rect x="300" y="206" width="3" height="9" fill="#32cd32"/><rect x="305" y="159" width="1" height="80" fill="#32cd32"/><rect x="304" y="214" width="3" height="23" fill="#32cd32"/><rect x="309" y="224" width="1" height="39" fill="#32cd32"/><rect x="308" y="236" width="3" height="20" fill="#32cd32"/><rect x="313" y="245" width="1" height="26" fill="#32cd32"/><rect x="312" y="255" width="3" height="12" fill="#32cd32"/><rect x="317" y="266" width="1" height="6" fill="#32cd32"/><rect x="316" y="266" width="3" height="4" fill="#32cd32"/><rect x="321" y="238" width="1" height="56" fill="#ff0000"/><rect x="320" y="245" width="3" height="28" fill="#ff0000"/><rect x="321" y="246" width="1" height="26" fill="#ff5a00"/><rect x="325" y="233" width="1" height="38" fill="#32cd32"/><rect x="324" y="245" width="3" height="15" fill="#32cd32"/><rect x="329" y="245" width="1" height="28" fill="#ff0000"/><rect x="328" y="249" width="3" height="11" fill="#ff0000"/><rect x="329" y="250" width="1" height="9" fill="#ff5a00"/><rect x="333" y="241" width="1" height="22" fill="#32cd32"/><rect x="332" y="249" width="3" height="11" fill="#32cd32"/><rect x="337" y="246" width="1" height="17" fill="#ff0000"/><rect x="336" y="255" width="3" height="5" fill="#ff0000"/><rect x="337" y="256" width="1" height="3" fill="#ff5a00"/><rect x="341" y="254" width="1" height="9" fill="#32cd32"/><rect x="340" y="255" width="3" height="8" fill="#32cd32"/><rect x="345" y="265" width="1" height="18" fill="#32cd32"/><rect x="344" y="266" width="3" height="12" fill="#32cd32"/><rect x="349" y="275" width="1" height="20" fill="#32cd32"/><rect x="348" y="277" width="3" height="14" fill="#32cd32"/><rect x="353" y="281" width="1" height="22" fill="#ff0000"/><rect x="352" y="288" width="3" height="2" fill="#ff0000"/><rect x="357" y="267" width="1" height="24" fill="#ff0000"/><rect x="356" y="275" width="3" height="15" fill="#ff0000"/><rect x="357" y="276" width="1" height="13" fill="#ff5a00"/><rect x="361" y="272" width="1" height="19" fill="#32cd32"/><rect x="360" y="275" width="3" height="12" fill="#32cd32"/><rect x="365" y="285" width="1" height="6" fill="#32cd32"/><rect x="364" y="286" width="3" height="4" fill="#32cd32"/><rect x="369" y="269" width="1" height="26" fill="#ff0000"/><rect x="368" y="269" width="3" height="19" fill="#ff0000"/><rect x="369" y="270" width="1" height="17" fill="#ff5a00"/><rect x="373" y="263" width="1" height="19" fill="#ff0000"/><rect x="372" y="269" width="3" height="2" fill="#ff0000"/><rect x="377" y="268" width="1" height="15" fill="#32cd32"/><rect x="376" y="269" width="3" height="8" fill="#32cd32"/><rect x="381" y="275" width="1" height="14" fill="#32cd32"/><rect x="380" y="276" width="3" height="7" fill="#32cd32"/><rect x="385" y="273" width="1" height="12" fill="#ff0000"/><rect x="384" y="280" width="3" height="4" fill="#ff0000"/><rect x="385" y="281" width="1" height="2" fill="#ff5a00"/><rect x="389" y="277" width="1" height="6" fill="#ff0000"/><rect x="388" y="278" width="3" height="4" fill="#ff0000"/><rect x="389" y="279" width="1" height="2" fill="#ff5a00"/><rect x="393" y="269" width="1" height="14" fill="#ff0000"/><rect x="392" y="274" width="3" height="5" fill="#ff0000"/><rect x="393" y="275" width="1" height="3" fill="#ff5a00"/><rect x="397" y="270" width="1" height="21" fill="#32cd32"/><rect x="396" y="272" width="3" height="15" fill="#32cd32"/><rect x="401" y="284" width="1" height="14" fill="#32cd32"/><rect x="400" y="286" width="3" height="4" fill="#32cd32"/><rect x="405" y="289" width="1" height="19" fill="#32cd32"/><rect x="404" y="289" width="3" height="12" fill="#32cd32"/><rect x="409" y="296" width="1" height="19" fill="#32cd32"/><rect x="408" y="300" width="3" height="14" fill="#32cd32"/><rect x="413" y="310" width="1" height="8" fill="#32cd32"/><rect x="412" y="312" width="3" height="3" fill="#32cd32"/><rect x="417" y="300" width="1" height="15" fill="#ff0000"/><rect x="416" y="309" width="3" height="3" fill="#ff0000"/><rect x="417" y="310" width="1" height="1" fill="#ff5a00"/><rect x="421" y="305" width="1" height="13" fill="#32cd32"/><rect x="420" y="307" width="3" height="3" fill="#32cd32"/><rect x="425" y="306" width="1" height="17" fill="#ff0000"/><rect x="424" y="307" width="3" height="3" fill="#ff0000"/><rect x="425" y="308" width="1" height="1" fill="#ff5a00"/><rect x="429" y="293" width="1" height="15" fill="#ff0000"/><rect x="428" y="296" width="3" height="11" fill="#ff0000"/><rect x="429" y="297" width="1" height="9" fill="#ff5a00"/><rect x="433" y="293" width="1" height="15" fill="#32cd32"/><rect x="432" y="296" width="3" height="2" fill="#32cd32"/><rect x="437" y="296" width="1" height="5" fill="#32cd32"/><rect x="436" y="296" width="3" height="2" fill="#32cd32"/><rect x="441" y="300" width="1" height="13" fill="#ff0000"/><rect x="440" y="301" width="3" height="2" fill="#ff0000"/><rect x="445" y="294" width="1" height="14" fill="#32cd32"/><rect x="444" y="300" width="3" height="6" fill="#32cd32"/><rect x="449" y="303" width="1" height="16" fill="#32cd32"/><rect x="448" y="305" width="3" height="11" fill="#32cd32"/><rect x="453" y="309" width="1" height="14" fill="#ff0000"/><rect x="452" y="311" width="3" height="5" fill="#ff0000"/><rect x="453" y="312" width="1" height="3" fill="#ff5a00"/><rect x="457" y="301" width="1" height="14" fill="#ff0000"/><rect x="456" y="310" width="3" height="2" fill="#ff0000"/><rect x="461" y="306" width="1" height="7" fill="#ff0000"/><rect x="460" y="307" width="3" height="5" fill="#ff0000"/><rect x="461" y="308" width="1" height="3" fill="#ff5a00"/><rect x="465" y="289" width="1" height="19" fill="#ff0000"/><rect x="464" y="299" width="3" height="7" fill="#ff0000"/><rect x="465" y="300" width="1" height="5" fill="#ff5a00"/><rect x="469" y="292" width="1" height="13" fill="#ff0000"/><rect x="468" y="296" width="3" height="4" fill="#ff0000"/><rect x="469" y="297" width="1" height="2" fill="#ff5a00"/><rect x="473" y="293" width="1" height="17" fill="#32cd32"/><rect x="472" y="296" width="3" height="7" fill="#32cd32"/><rect x="477" y="299" width="1" height="15" fill="#32cd32"/><rect x="476" y="300" width="3" height="13" fill="#32cd32"/><rect x="481" y="308" width="1" height="5" fill="#ff0000"/><rect x="480" y="311" width="3" height="1" fill="#ff0000"/><rect x="485" y="299" width="1" height="14" fill="#ff0000"/><rect x="484" y="300" width="3" height="11" fill="#ff0000"/><rect x="485" y="301" width="1" height="9" fill="#ff5a00"/><rect x="489" y="299" width="1" height="15" fill="#32cd32"/><rect x="488" y="300" width="3" height="8" fill="#32cd32"/><rect x="493" y="305" width="1" height="17" fill="#32cd32"/><rect x="492" y="307" width="3" height="14" fill="#32cd32"/><rect x="497" y="310" width="1" height="18" fill="#32cd32"/><rect x="496" y="318" width="3" height="6" fill="#32cd32"/><rect x="501" y="318" width="1" height="7" fill="#ff0000"/><rect x="500" y="321" width="3" height="3" fill="#ff0000"/><rect x="501" y="322" width="1" height="1" fill="#ff5a00"/><rect x="504" y="319" width="3" height="1" fill="#000"/><rect x="509" y="324" width="1" height="34" fill="#32cd32"/><rect x="508" y="325" width="3" height="25" fill="#32cd32"/><rect x="513" y="341" width="1" height="33" fill="#32cd32"/><rect x="512" y="349" width="3" height="8" fill="#32cd32"/><rect x="517" y="346" width="1" height="20" fill="#ff0000"/><rect x="516" y="348" width="3" height="9" fill="#ff0000"/><rect x="517" y="349" width="1" height="7" fill="#ff5a00"/><rect x="521" y="338" width="1" height="21" fill="#ff0000"/><rect x="520" y="338" width="3" height="11" fill="#ff0000"/><rect x="521" y="339" width="1" height="9" fill="#ff5a00"/><rect x="525" y="334" width="1" height="16" fill="#32cd32"/><rect x="524" y="338" width="3" height="9" fill="#32cd32"/><rect x="529" y="335" width="1" height="14" fill="#ff0000"/><rect x="528" y="340" width="3" height="7" fill="#ff0000"/><rect x="529" y="341" width="1" height="5" fill="#ff5a00"/><rect x="533" y="326" width="1" height="14" fill="#ff0000"/><rect x="532" y="334" width="3" height="3" fill="#ff0000"/><rect x="533" y="335" width="1" height="1" fill="#ff5a00"/><rect x="537" y="332" width="1" height="18" fill="#32cd32"/><rect x="536" y="334" width="3" height="11" fill="#32cd32"/><rect x="541" y="340" width="1" height="17" fill="#ff0000"/><rect x="540" y="342" width="3" height="3" fill="#ff0000"/><rect x="541" y="343" width="1" height="1" fill="#ff5a00"/><rect x="545" y="334" width="1" height="12" fill="#ff0000"/><rect x="544" y="337" width="3" height="6" fill="#ff0000"/><rect x="545" y="338" width="1" height="4" fill="#ff5a00"/><rect x="549" y="329" width="1" height="15" fill="#ff0000"/><rect x="548" y="331" width="3" height="9" fill="#ff0000"/><rect x="549" y="332" width="1" height="7" fill="#ff5a00"/><rect x="553" y="329" width="1" height="6" fill="#ff0000"/><rect x="552" y="330" width="3" height="3" fill="#ff0000"/><rect x="553" y="331" width="1" height="1" fill="#ff5a00"/><rect x="557" y="316" width="1" height="17" fill="#ff0000"/><rect x="556" y="322" width="3" height="8" fill="#ff0000"/><rect x="557" y="323" width="1" height="6" fill="#ff5a00"/><rect x="561" y="321" width="1" height="16" fill="#32cd32"/><rect x="560" y="322" width="3" height="13" fill="#32cd32"/><rect x="565" y="330" width="1" height="14" fill="#32cd32"/><rect x="564" y="334" width="3" height="10" fill="#32cd32"/><rect x="569" y="339" width="1" height="9" fill="#ff0000"/><rect x="568" y="340" width="3" height="4" fill="#ff0000"/><rect x="569" y="341" width="1" height="2" fill="#ff5a00"/><rect x="573" y="321" width="1" height="23" fill="#ff0000"/><rect x="572" y="324" width="3" height="17" fill="#ff0000"/><rect x="573" y="325" width="1" height="15" fill="#ff5a00"/><rect x="577" y="321" width="1" height="6" fill="#ff0000"/><rect x="576" y="322" width="3" height="3" fill="#ff0000"/><rect x="577" y="323" width="1" height="1" fill="#ff5a00"/><rect x="581" y="322" width="1" height="10" fill="#32cd32"/><rect x="580" y="324" width="3" height="3" fill="#32cd32"/><rect x="585" y="324" width="1" height="17" fill="#32cd32"/><rect x="584" y="326" width="3" height="13" fill="#32cd32"/><rect x="589" y="320" width="1" height="22" fill="#ff0000"/><rect x="588" y="324" width="3" height="14" fill="#ff0000"/><rect x="589" y="325" width="1" height="12" fill="#ff5a00"/><rect x="593" y="312" width="1" height="28" fill="#32cd32"/><rect x="592" y="324" width="3" height="13" fill="#32cd32"/><rect x="597" y="332" width="1" height="25" fill="#32cd32"/><rect x="596" y="334" width="3" height="22" fill="#32cd32"/><rect x="601" y="346" width="1" height="10" fill="#ff0000"/><rect x="600" y="350" width="3" height="6" fill="#ff0000"/><rect x="601" y="351" width="1" height="4" fill="#ff5a00"/><rect x="605" y="333" width="1" height="23" fill="#ff0000"/><rect x="604" y="334" width="3" height="14" fill="#ff0000"/><rect x="605" y="335" width="1" height="12" fill="#ff5a00"/><rect x="609" y="333" width="1" height="15" fill="#32cd32"/><rect x="608" y="334" width="3" height="9" fill="#32cd32"/><rect x="613" y="340" width="1" height="8" fill="#ff0000"/><rect x="612" y="342" width="3" height="1" fill="#ff0000"/><rect x="617" y="333" width="1" height="14" fill="#ff0000"/><rect x="616" y="334" width="3" height="9" fill="#ff0000"/><rect x="617" y="335" width="1" height="7" fill="#ff5a00"/><rect x="621" y="328" width="1" height="16" fill="#32cd32"/><rect x="620" y="334" width="3" height="10" fill="#32cd32"/><rect x="625" y="342" width="1" height="5" fill="#32cd32"/><rect x="624" y="343" width="3" height="3" fill="#32cd32"/><rect x="629" y="343" width="1" height="14" fill="#32cd32"/><rect x="628" y="345" width="3" height="11" fill="#32cd32"/><rect x="633" y="351" width="1" height="17" fill="#32cd32"/><rect x="632" y="355" width="3" height="13" fill="#32cd32"/><rect x="637" y="361" width="1" height="12" fill="#ff0000"/><rect x="636" y="363" width="3" height="5" fill="#ff0000"/><rect x="637" y="364" width="1" height="3" fill="#ff5a00"/><rect x="641" y="359" width="1" height="11" fill="#32cd32"/><rect x="640" y="363" width="3" height="7" fill="#32cd32"/><rect x="645" y="357" width="1" height="13" fill="#ff0000"/><rect x="644" y="366" width="3" height="4" fill="#ff0000"/><rect x="645" y="367" width="1" height="2" fill="#ff5a00"/><rect x="649" y="365" width="1" height="5" fill="#32cd32"/><rect x="648" y="366" width="3" height="3" fill="#32cd32"/><rect x="653" y="366" width="1" height="14" fill="#32cd32"/><rect x="652" y="366" width="3" height="11" fill="#32cd32"/><rect x="657" y="362" width="1" height="18" fill="#ff0000"/><rect x="656" y="366" width="3" height="13" fill="#ff0000"/><rect x="657" y="367" width="1" height="11" fill="#ff5a00"/><rect x="661" y="350" width="1" height="18" fill="#ff0000"/><rect x="660" y="352" width="3" height="15" fill="#ff0000"/><rect x="661" y="353" width="1" height="13" fill="#ff5a00"/><rect x="665" y="337" width="1" height="26" fill="#ff0000"/><rect x="664" y="338" width="3" height="16" fill="#ff0000"/><rect x="665" y="339" width="1" height="14" fill="#ff5a00"/><rect x="669" y="337" width="1" height="18" fill="#32cd32"/><rect x="668" y="338" width="3" height="9" fill="#32cd32"/><rect x="673" y="342" width="1" height="8" fill="#ff0000"/><rect x="672" y="343" width="3" height="4" fill="#ff0000"/><rect x="673" y="344" width="1" height="2" fill="#ff5a00"/><rect x="677" y="335" width="1" height="18" fill="#ff0000"/><rect x="676" y="336" width="3" height="16" fill="#ff0000"/><rect x="677" y="337" width="1" height="14" fill="#ff5a00"/><rect x="681" y="335" width="1" height="14" fill="#32cd32"/><rect x="680" y="336" width="3" height="10" fill="#32cd32"/><rect x="685" y="339" width="1" height="17" fill="#32cd32"/><rect x="684" y="343" width="3" height="6" fill="#32cd32"/><rect x="689" y="343" width="1" height="11" fill="#ff0000"/><rect x="688" y="343" width="3" height="5" fill="#ff0000"/><rect x="689" y="344" width="1" height="3" fill="#ff5a00"/><rect x="693" y="316" width="1" height="30" fill="#ff0000"/><rect x="692" y="333" width="3" height="12" fill="#ff0000"/><rect x="693" y="334" width="1" height="10" fill="#ff5a00"/><rect x="697" y="327" width="1" height="8" fill="#ff0000"/><rect x="696" y="329" width="3" height="5" fill="#ff0000"/><rect x="697" y="330" width="1" height="3" fill="#ff5a00"/><rect x="701" y="333" width="1" height="9" fill="#32cd32"/><rect x="700" y="337" width="3" height="4" fill="#32cd32"/><rect x="705" y="330" width="1" height="13" fill="#ff0000"/><rect x="704" y="334" width="3" height="7" fill="#ff0000"/><rect x="705" y="335" width="1" height="5" fill="#ff5a00"/><rect x="709" y="333" width="1" height="13" fill="#32cd32"/><rect x="708" y="334" width="3" height="8" fill="#32cd32"/><rect x="713" y="332" width="1" height="9" fill="#ff0000"/><rect x="712" y="335" width="3" height="4" fill="#ff0000"/><rect x="713" y="336" width="1" height="2" fill="#ff5a00"/><rect x="717" y="308" width="1" height="30" fill="#ff0000"/><rect x="716" y="309" width="3" height="28" fill="#ff0000"/><rect x="717" y="310" width="1" height="26" fill="#ff5a00"/><rect x="721" y="304" width="1" height="9" fill="#32cd32"/><rect x="720" y="309" width="3" height="4" fill="#32cd32"/><rect x="725" y="292" width="1" height="26" fill="#ff0000"/><rect x="724" y="292" width="3" height="24" fill="#ff0000"/><rect x="725" y="293" width="1" height="22" fill="#ff5a00"/><rect x="729" y="284" width="1" height="31" fill="#32cd32"/><rect x="728" y="292" width="3" height="17" fill="#32cd32"/><rect x="733" y="304" width="1" height="16" fill="#32cd32"/><rect x="732" y="306" width="3" height="8" fill="#32cd32"/><rect x="737" y="312" width="1" height="19" fill="#32cd32"/><rect x="736" y="314" width="3" height="14" fill="#32cd32"/><rect x="741" y="312" width="1" height="24" fill="#ff0000"/><rect x="740" y="319" width="3" height="9" fill="#ff0000"/><rect x="741" y="320" width="1" height="7" fill="#ff5a00"/><rect x="745" y="318" width="1" height="7" fill="#32cd32"/><rect x="744" y="320" width="3" height="3" fill="#32cd32"/><rect x="749" y="311" width="1" height="14" fill="#ff0000"/><rect x="748" y="320" width="3" height="2" fill="#ff0000"/><rect x="753" y="317" width="1" height="9" fill="#32cd32"/><rect x="752" y="320" width="3" height="2" fill="#32cd32"/><rect x="757" y="315" width="1" height="7" fill="#ff0000"/><rect x="756" y="315" width="3" height="6" fill="#ff0000"/><rect x="757" y="316" width="1" height="4" fill="#ff5a00"/><rect x="761" y="314" width="1" height="17" fill="#32cd32"/><rect x="760" y="315" width="3" height="4" fill="#32cd32"/><rect x="765" y="308" width="1" height="12" fill="#ff0000"/><rect x="764" y="314" width="3" height="5" fill="#ff0000"/><rect x="765" y="315" width="1" height="3" fill="#ff5a00"/><rect x="769" y="313" width="1" height="5" fill="#32cd32"/><rect x="768" y="314" width="3" height="3" fill="#32cd32"/><rect x="773" y="311" width="1" height="9" fill="#32cd32"/><rect x="772" y="312" width="3" height="7" fill="#32cd32"/><rect x="777" y="311" width="1" height="9" fill="#ff0000"/><rect x="776" y="313" width="3" height="6" fill="#ff0000"/><rect x="777" y="314" width="1" height="4" fill="#ff5a00"/><rect x="781" y="303" width="1" height="13" fill="#ff0000"/><rect x="780" y="306" width="3" height="8" fill="#ff0000"/><rect x="781" y="307" width="1" height="6" fill="#ff5a00"/><rect x="785" y="291" width="1" height="18" fill="#ff0000"/><rect x="784" y="291" width="3" height="17" fill="#ff0000"/><rect x="785" y="292" width="1" height="15" fill="#ff5a00"/><rect x="789" y="289" width="1" height="11" fill="#32cd32"/><rect x="788" y="290" width="3" height="7" fill="#32cd32"/><rect x="793" y="294" width="1" height="4" fill="#32cd32"/><rect x="792" y="296" width="3" height="1" fill="#32cd32"/><rect x="797" y="271" width="1" height="28" fill="#ff0000"/><rect x="796" y="277" width="3" height="19" fill="#ff0000"/><rect x="797" y="278" width="1" height="17" fill="#ff5a00"/><rect x="801" y="271" width="1" height="11" fill="#ff0000"/><rect x="800" y="277" width="3" height="1" fill="#ff0000"/><rect x="805" y="274" width="1" height="16" fill="#32cd32"/><rect x="804" y="276" width="3" height="8" fill="#32cd32"/><rect x="809" y="269" width="1" height="18" fill="#ff0000"/><rect x="808" y="277" width="3" height="7" fill="#ff0000"/><rect x="809" y="278" width="1" height="5" fill="#ff5a00"/><rect x="813" y="275" width="1" height="5" fill="#32cd32"/><rect x="812" y="277" width="3" height="2" fill="#32cd32"/><rect x="817" y="275" width="1" height="4" fill="#32cd32"/><rect x="816" y="276" width="3" height="3" fill="#32cd32"/><rect x="821" y="271" width="1" height="19" fill="#32cd32"/><rect x="820" y="278" width="3" height="10" fill="#32cd32"/><rect x="825" y="282" width="1" height="16" fill="#32cd32"/><rect x="824" y="287" width="3" height="11" fill="#32cd32"/><rect x="829" y="289" width="1" height="10" fill="#ff0000"/><rect x="828" y="293" width="3" height="5" fill="#ff0000"/><rect x="829" y="294" width="1" height="3" fill="#ff5a00"/><rect x="833" y="284" width="1" height="12" fill="#ff0000"/><rect x="832" y="285" width="3" height="9" fill="#ff0000"/><rect x="833" y="286" width="1" height="7" fill="#ff5a00"/><rect x="837" y="279" width="1" height="13" fill="#32cd32"/><rect x="836" y="285" width="3" height="3" fill="#32cd32"/><rect x="841" y="284" width="1" height="4" fill="#ff0000"/><rect x="840" y="285" width="3" height="3" fill="#ff0000"/><rect x="841" y="286" width="1" height="1" fill="#ff5a00"/><rect x="845" y="282" width="1" height="12" fill="#32cd32"/><rect x="844" y="285" width="3" height="7" fill="#32cd32"/><rect x="849" y="286" width="1" height="10" fill="#32cd32"/><rect x="848" y="291" width="3" height="4" fill="#32cd32"/><rect x="853" y="292" width="1" height="15" fill="#32cd32"/><rect x="852" y="293" width="3" height="13" fill="#32cd32"/><rect x="857" y="294" width="1" height="14" fill="#32cd32"/><rect x="856" y="304" width="3" height="3" fill="#32cd32"/><rect x="861" y="299" width="1" height="9" fill="#32cd32"/><rect x="860" y="305" width="3" height="3" fill="#32cd32"/><rect x="865" y="303" width="1" height="4" fill="#ff0000"/><rect x="864" y="304" width="3" height="3" fill="#ff0000"/><rect x="865" y="305" width="1" height="1" fill="#ff5a00"/><rect x="869" y="300" width="1" height="20" fill="#32cd32"/><rect x="868" y="304" width="3" height="12" fill="#32cd32"/><rect x="873" y="313" width="1" height="15" fill="#32cd32"/><rect x="872" y="314" width="3" height="8" fill="#32cd32"/><rect x="877" y="318" width="1" height="10" fill="#32cd32"/><rect x="876" y="321" width="3" height="7" fill="#32cd32"/><rect x="881" y="324" width="1" height="9" fill="#ff0000"/><rect x="880" y="325" width="3" height="3" fill="#ff0000"/><rect x="881" y="326" width="1" height="1" fill="#ff5a00"/><rect x="885" y="321" width="1" height="9" fill="#ff0000"/><rect x="884" y="325" width="3" height="2" fill="#ff0000"/><rect x="889" y="325" width="1" height="4" fill="#32cd32"/><rect x="888" y="326" width="3" height="3" fill="#32cd32"/><rect x="893" y="325" width="1" height="11" fill="#32cd32"/><rect x="892" y="327" width="3" height="9" fill="#32cd32"/><rect x="897" y="329" width="1" height="10" fill="#ff0000"/><rect x="896" y="333" width="3" height="4" fill="#ff0000"/><rect x="897" y="334" width="1" height="2" fill="#ff5a00"/><rect x="901" y="328" width="1" height="10" fill="#32cd32"/><rect x="900" y="333" width="3" height="4" fill="#32cd32"/><rect x="905" y="333" width="1" height="11" fill="#32cd32"/><rect x="904" y="336" width="3" height="6" fill="#32cd32"/><rect x="909" y="336" width="1" height="8" fill="#ff0000"/><rect x="908" y="339" width="3" height="2" fill="#ff0000"/><rect x="913" y="336" width="1" height="6" fill="#ff0000"/><rect x="912" y="336" width="3" height="5" fill="#ff0000"/><rect x="913" y="337" width="1" height="3" fill="#ff5a00"/><rect x="917" y="330" width="1" height="11" fill="#32cd32"/><rect x="916" y="336" width="3" height="3" fill="#32cd32"/><rect x="921" y="326" width="1" height="15" fill="#ff0000"/><rect x="920" y="328" width="3" height="11" fill="#ff0000"/><rect x="921" y="329" width="1" height="9" fill="#ff5a00"/><rect x="925" y="328" width="1" height="6" fill="#32cd32"/><rect x="924" y="328" width="3" height="4" fill="#32cd32"/></g>
</g>
<path d="M8 34 L11.5 29 L15 34 Z" fill="#000" shape-rendering="geometricPrecision"/>
<g><rect x="4" y="417" width="3" height="17" fill="#c0c0c0"/><rect x="8" y="417" width="3" height="18" fill="#c0c0c0"/><rect x="12" y="417" width="3" height="19" fill="#c0c0c0"/><rect x="16" y="417" width="3" height="20" fill="#c0c0c0"/><rect x="20" y="417" width="3" height="20" fill="#c0c0c0"/><rect x="24" y="417" width="3" height="20" fill="#c0c0c0"/><rect x="28" y="417" width="3" height="20" fill="#c0c0c0"/><rect x="32" y="417" width="3" height="21" fill="#c0c0c0"/><rect x="36" y="417" width="3" height="22" fill="#c0c0c0"/><rect x="40" y="417" width="3" height="23" fill="#c0c0c0"/><rect x="44" y="417" width="3" height="23" fill="#c0c0c0"/><rect x="48" y="417" width="3" height="24" fill="#c0c0c0"/><rect x="52" y="417" width="3" height="23" fill="#c0c0c0"/><rect x="56" y="417" width="3" height="23" fill="#c0c0c0"/><rect x="60" y="417" width="3" height="23" fill="#c0c0c0"/><rect x="64" y="417" width="3" height="24" fill="#c0c0c0"/><rect x="68" y="417" width="3" height="25" fill="#c0c0c0"/><rect x="72" y="417" width="3" height="27" fill="#c0c0c0"/><rect x="76" y="417" width="3" height="29" fill="#c0c0c0"/><rect x="80" y="417" width="3" height="31" fill="#c0c0c0"/><rect x="84" y="417" width="3" height="33" fill="#c0c0c0"/><rect x="88" y="417" width="3" height="33" fill="#c0c0c0"/><rect x="92" y="417" width="3" height="33" fill="#c0c0c0"/><rect x="96" y="417" width="3" height="33" fill="#c0c0c0"/><rect x="100" y="417" width="3" height="33" fill="#c0c0c0"/><rect x="104" y="417" width="3" height="32" fill="#c0c0c0"/><rect x="108" y="417" width="3" height="32" fill="#c0c0c0"/><rect x="112" y="417" width="3" height="31" fill="#c0c0c0"/><rect x="116" y="417" width="3" height="30" fill="#c0c0c0"/><rect x="120" y="417" width="3" height="29" fill="#c0c0c0"/><rect x="124" y="417" width="3" height="28" fill="#c0c0c0"/><rect x="128" y="417" width="3" height="30" fill="#c0c0c0"/><rect x="132" y="417" width="3" height="32" fill="#c0c0c0"/><rect x="136" y="417" width="3" height="35" fill="#c0c0c0"/><rect x="140" y="417" width="3" height="36" fill="#c0c0c0"/><rect x="144" y="417" width="3" height="37" fill="#c0c0c0"/><rect x="148" y="417" width="3" height="37" fill="#c0c0c0"/><rect x="152" y="417" width="3" height="33" fill="#c0c0c0"/><rect x="156" y="417" width="3" height="32" fill="#c0c0c0"/><rect x="160" y="417" width="3" height="28" fill="#c0c0c0"/><rect x="164" y="417" width="3" height="23" fill="#c0c0c0"/><rect x="168" y="417" width="3" height="19" fill="#c0c0c0"/><rect x="172" y="417" width="3" height="17" fill="#c0c0c0"/><rect x="176" y="417" width="3" height="16" fill="#c0c0c0"/><rect x="180" y="417" width="3" height="13" fill="#c0c0c0"/><rect x="184" y="417" width="3" height="15" fill="#c0c0c0"/><rect x="188" y="417" width="3" height="19" fill="#c0c0c0"/><rect x="192" y="417" width="3" height="20" fill="#c0c0c0"/><rect x="196" y="417" width="3" height="23" fill="#c0c0c0"/><rect x="200" y="417" width="3" height="26" fill="#c0c0c0"/><rect x="204" y="417" width="3" height="27" fill="#c0c0c0"/><rect x="208" y="417" width="3" height="29" fill="#c0c0c0"/><rect x="212" y="417" width="3" height="29" fill="#c0c0c0"/><rect x="216" y="417" width="3" height="33" fill="#c0c0c0"/><rect x="220" y="417" width="3" height="35" fill="#c0c0c0"/><rect x="224" y="417" width="3" height="32" fill="#c0c0c0"/><rect x="228" y="417" width="3" height="29" fill="#c0c0c0"/><rect x="232" y="417" width="3" height="29" fill="#c0c0c0"/><rect x="236" y="417" width="3" height="30" fill="#c0c0c0"/><rect x="240" y="417" width="3" height="31" fill="#c0c0c0"/><rect x="244" y="417" width="3" height="31" fill="#c0c0c0"/><rect x="248" y="417" width="3" height="32" fill="#c0c0c0"/><rect x="252" y="417" width="3" height="34" fill="#c0c0c0"/><rect x="256" y="417" width="3" height="37" fill="#c0c0c0"/><rect x="260" y="417" width="3" height="36" fill="#c0c0c0"/><rect x="264" y="417" width="3" height="35" fill="#c0c0c0"/><rect x="268" y="417" width="3" height="33" fill="#c0c0c0"/><rect x="272" y="417" width="3" height="30" fill="#c0c0c0"/><rect x="276" y="417" width="3" height="27" fill="#c0c0c0"/><rect x="280" y="417" width="3" height="22" fill="#c0c0c0"/><rect x="284" y="417" width="3" height="19" fill="#c0c0c0"/><rect x="288" y="417" width="3" height="18" fill="#c0c0c0"/><rect x="292" y="417" width="3" height="17" fill="#c0c0c0"/><rect x="296" y="417" width="3" height="16" fill="#c0c0c0"/><rect x="300" y="417" width="3" height="16" fill="#c0c0c0"/><rect x="304" y="417" width="3" height="19" fill="#c0c0c0"/><rect x="308" y="417" width="3" height="24" fill="#c0c0c0"/><rect x="312" y="417" width="3" height="29" fill="#c0c0c0"/><rect x="316" y="417" width="3" height="32" fill="#c0c0c0"/><rect x="320" y="417" width="3" height="32" fill="#c0c0c0"/><rect x="324" y="417" width="3" height="33" fill="#c0c0c0"/><rect x="328" y="417" width="3" height="32" fill="#c0c0c0"/><rect x="332" y="417" width="3" height="32" fill="#c0c0c0"/><rect x="336" y="417" width="3" height="32" fill="#c0c0c0"/><rect x="340" y="417" width="3" height="32" fill="#c0c0c0"/><rect x="344" y="417" width="3" height="33" fill="#c0c0c0"/><rect x="348" y="417" width="3" height="36" fill="#c0c0c0"/><rect x="352" y="417" width="3" height="37" fill="#c0c0c0"/><rect x="356" y="417" width="3" height="36" fill="#c0c0c0"/><rect x="360" y="417" width="3" height="37" fill="#c0c0c0"/><rect x="364" y="417" width="3" height="37" fill="#c0c0c0"/><rect x="368" y="417" width="3" height="34" fill="#c0c0c0"/><rect x="372" y="417" width="3" height="31" fill="#c0c0c0"/><rect x="376" y="417" width="3" height="29" fill="#c0c0c0"/><rect x="380" y="417" width="3" height="29" fill="#c0c0c0"/><rect x="384" y="417" width="3" height="27" fill="#c0c0c0"/><rect x="388" y="417" width="3" height="26" fill="#c0c0c0"/><rect x="392" y="417" width="3" height="24" fill="#c0c0c0"/><rect x="396" y="417" width="3" height="23" fill="#c0c0c0"/><rect x="400" y="417" width="3" height="24" fill="#c0c0c0"/><rect x="404" y="417" width="3" height="25" fill="#c0c0c0"/><rect x="408" y="417" width="3" height="27" fill="#c0c0c0"/><rect x="412" y="417" width="3" height="29" fill="#c0c0c0"/><rect x="416" y="417" width="3" height="29" fill="#c0c0c0"/><rect x="420" y="417" width="3" height="29" fill="#c0c0c0"/><rect x="424" y="417" width="3" height="29" fill="#c0c0c0"/><rect x="428" y="417" width="3" height="27" fill="#c0c0c0"/><rect x="432" y="417" width="3" height="25" fill="#c0c0c0"/><rect x="436" y="417" width="3" height="23" fill="#c0c0c0"/><rect x="440" y="417" width="3" height="22" fill="#c0c0c0"/><rect x="444" y="417" width="3" height="21" fill="#c0c0c0"/><rect x="448" y="417" width="3" height="22" fill="#c0c0c0"/><rect x="452" y="417" width="3" height="22" fill="#c0c0c0"/><rect x="456" y="417" width="3" height="21" fill="#c0c0c0"/><rect x="460" y="417" width="3" height="20" fill="#c0c0c0"/><rect x="464" y="417" width="3" height="18" fill="#c0c0c0"/><rect x="468" y="417" width="3" height="15" fill="#c0c0c0"/><rect x="472" y="417" width="3" height="13" fill="#c0c0c0"/><rect x="476" y="417" width="3" height="13" fill="#c0c0c0"/><rect x="480" y="417" width="3" height="13" fill="#c0c0c0"/><rect x="484" y="417" width="3" height="13" fill="#c0c0c0"/><rect x="488" y="417" width="3" height="12" fill="#c0c0c0"/><rect x="492" y="417" width="3" height="13" fill="#c0c0c0"/><rect x="496" y="417" width="3" height="13" fill="#c0c0c0"/><rect x="500" y="417" width="3" height="14" fill="#c0c0c0"/><rect x="504" y="417" width="3" height="14" fill="#c0c0c0"/><rect x="508" y="417" width="3" height="19" fill="#c0c0c0"/><rect x="512" y="417" width="3" height="22" fill="#c0c0c0"/><rect x="516" y="417" width="3" height="23" fill="#c0c0c0"/><rect x="520" y="417" width="3" height="23" fill="#c0c0c0"/><rect x="524" y="417" width="3" height="23" fill="#c0c0c0"/><rect x="528" y="417" width="3" height="23" fill="#c0c0c0"/><rect x="532" y="417" width="3" height="22" fill="#c0c0c0"/><rect x="536" y="417" width="3" height="22" fill="#c0c0c0"/><rect x="540" y="417" width="3" height="21" fill="#c0c0c0"/><rect x="544" y="417" width="3" height="20" fill="#c0c0c0"/><rect x="548" y="417" width="3" height="18" fill="#c0c0c0"/><rect x="552" y="417" width="3" height="16" fill="#c0c0c0"/><rect x="556" y="417" width="3" height="13" fill="#c0c0c0"/><rect x="560" y="417" width="3" height="12" fill="#c0c0c0"/><rect x="564" y="417" width="3" height="13" fill="#c0c0c0"/><rect x="568" y="417" width="3" height="13" fill="#c0c0c0"/><rect x="572" y="417" width="3" height="10" fill="#c0c0c0"/><rect x="576" y="417" width="3" height="8" fill="#c0c0c0"/><rect x="580" y="417" width="3" height="7" fill="#c0c0c0"/><rect x="584" y="417" width="3" height="7" fill="#c0c0c0"/><rect x="588" y="417" width="3" height="6" fill="#c0c0c0"/><rect x="592" y="417" width="3" height="6" fill="#c0c0c0"/><rect x="596" y="417" width="3" height="9" fill="#c0c0c0"/><rect x="600" y="417" width="3" height="10" fill="#c0c0c0"/><rect x="604" y="417" width="3" height="9" fill="#c0c0c0"/><rect x="608" y="417" width="3" height="9" fill="#c0c0c0"/><rect x="612" y="417" width="3" height="9" fill="#c0c0c0"/><rect x="616" y="417" width="3" height="8" fill="#c0c0c0"/><rect x="620" y="417" width="3" height="8" fill="#c0c0c0"/><rect x="624" y="417" width="3" height="8" fill="#c0c0c0"/><rect x="628" y="417" width="3" height="10" fill="#c0c0c0"/><rect x="632" y="417" width="3" height="12" fill="#c0c0c0"/><rect x="636" y="417" width="3" height="13" fill="#c0c0c0"/><rect x="640" y="417" width="3" height="16" fill="#c0c0c0"/><rect x="644" y="417" width="3" height="16" fill="#c0c0c0"/><rect x="648" y="417" width="3" height="17" fill="#c0c0c0"/><rect x="652" y="417" width="3" height="18" fill="#c0c0c0"/><rect x="656" y="417" width="3" height="18" fill="#c0c0c0"/><rect x="660" y="417" width="3" height="16" fill="#c0c0c0"/><rect x="664" y="417" width="3" height="12" fill="#c0c0c0"/><rect x="668" y="417" width="3" height="10" fill="#c0c0c0"/><rect x="672" y="417" width="3" height="8" fill="#c0c0c0"/><rect x="676" y="417" width="3" height="5" fill="#c0c0c0"/><rect x="680" y="417" width="3" height="4" fill="#c0c0c0"/><rect x="684" y="417" width="3" height="2" fill="#c0c0c0"/><rect x="688" y="417" width="3" height="1" fill="#c0c0c0"/><rect x="692" y="416" width="3" height="1" fill="#c0c0c0"/><rect x="696" y="414" width="3" height="3" fill="#c0c0c0"/><rect x="700" y="414" width="3" height="3" fill="#c0c0c0"/><rect x="704" y="414" width="3" height="3" fill="#c0c0c0"/><rect x="708" y="413" width="3" height="4" fill="#c0c0c0"/><rect x="712" y="412" width="3" height="5" fill="#c0c0c0"/><rect x="716" y="409" width="3" height="8" fill="#c0c0c0"/><rect x="720" y="406" width="3" height="11" fill="#c0c0c0"/><rect x="724" y="402" width="3" height="15" fill="#c0c0c0"/><rect x="728" y="400" width="3" height="17" fill="#c0c0c0"/><rect x="732" y="400" width="3" height="17" fill="#c0c0c0"/><rect x="736" y="402" width="3" height="15" fill="#c0c0c0"/><rect x="740" y="403" width="3" height="14" fill="#c0c0c0"/><rect x="744" y="404" width="3" height="13" fill="#c0c0c0"/><rect x="748" y="405" width="3" height="12" fill="#c0c0c0"/><rect x="752" y="405" width="3" height="12" fill="#c0c0c0"/><rect x="756" y="405" width="3" height="12" fill="#c0c0c0"/><rect x="760" y="406" width="3" height="11" fill="#c0c0c0"/><rect x="764" y="406" width="3" height="11" fill="#c0c0c0"/><rect x="768" y="406" width="3" height="11" fill="#c0c0c0"/><rect x="772" y="407" width="3" height="10" fill="#c0c0c0"/><rect x="776" y="407" width="3" height="10" fill="#c0c0c0"/><rect x="780" y="406" width="3" height="11" fill="#c0c0c0"/><rect x="784" y="404" width="3" height="13" fill="#c0c0c0"/><rect x="788" y="402" width="3" height="15" fill="#c0c0c0"/><rect x="792" y="402" width="3" height="15" fill="#c0c0c0"/><rect x="796" y="399" width="3" height="18" fill="#c0c0c0"/><rect x="800" y="397" width="3" height="20" fill="#c0c0c0"/><rect x="804" y="396" width="3" height="21" fill="#c0c0c0"/><rect x="808" y="395" width="3" height="22" fill="#c0c0c0"/><rect x="812" y="395" width="3" height="22" fill="#c0c0c0"/><rect x="816" y="394" width="3" height="23" fill="#c0c0c0"/><rect x="820" y="396" width="3" height="21" fill="#c0c0c0"/><rect x="824" y="398" width="3" height="19" fill="#c0c0c0"/><rect x="828" y="400" width="3" height="17" fill="#c0c0c0"/><rect x="832" y="401" width="3" height="16" fill="#c0c0c0"/><rect x="836" y="402" width="3" height="15" fill="#c0c0c0"/><rect x="840" y="402" width="3" height="15" fill="#c0c0c0"/><rect x="844" y="404" width="3" height="13" fill="#c0c0c0"/><rect x="848" y="405" width="3" height="12" fill="#c0c0c0"/><rect x="852" y="408" width="3" height="9" fill="#c0c0c0"/><rect x="856" y="410" width="3" height="7" fill="#c0c0c0"/><rect x="860" y="412" width="3" height="5" fill="#c0c0c0"/><rect x="864" y="414" width="3" height="3" fill="#c0c0c0"/><rect x="868" y="416" width="3" height="1" fill="#c0c0c0"/><rect x="872" y="417" width="3" height="3" fill="#c0c0c0"/><rect x="876" y="417" width="3" height="6" fill="#c0c0c0"/><rect x="880" y="417" width="3" height="8" fill="#c0c0c0"/><rect x="884" y="417" width="3" height="10" fill="#c0c0c0"/><rect x="888" y="417" width="3" height="11" fill="#c0c0c0"/><rect x="892" y="417" width="3" height="13" fill="#c0c0c0"/><rect x="896" y="417" width="3" height="14" fill="#c0c0c0"/><rect x="900" y="417" width="3" height="15" fill="#c0c0c0"/><rect x="904" y="417" width="3" height="17" fill="#c0c0c0"/><rect x="908" y="417" width="3" height="17" fill="#c0c0c0"/><rect x="912" y="417" width="3" height="17" fill="#c0c0c0"/><rect x="916" y="417" width="3" height="17" fill="#c0c0c0"/><rect x="920" y="417" width="3" height="16" fill="#c0c0c0"/><rect x="924" y="417" width="3" height="15" fill="#c0c0c0"/></g>
<path d="M821 397h21v1h-21zM815 398h6v1h-6zM842 398h4v1h-4zM813 399h2v1h-2zM846 399h3v1h-3zM811 400h2v1h-2zM849 400h2v1h-2zM808 401h3v1h-3zM851 401h2v1h-2zM805 402h3v1h-3zM853 402h2v1h-2zM747 403h18v1h-18zM801 403h4v1h-4zM855 403h3v1h-3zM744 404h3v1h-3zM765 404h3v1h-3zM797 404h4v1h-4zM858 404h3v1h-3zM740 405h4v1h-4zM768 405h6v1h-6zM793 405h4v1h-4zM861 405h3v1h-3zM737 406h3v1h-3zM774 406h19v1h-19zM864 406h3v1h-3zM734 407h3v1h-3zM867 407h2v1h-2zM731 408h3v1h-3zM869 408h2v1h-2zM729 409h2v1h-2zM871 409h2v1h-2zM727 410h2v1h-2zM873 410h2v1h-2zM725 411h2v1h-2zM875 411h1v1h-1zM723 412h2v1h-2zM876 412h2v1h-2zM721 413h2v1h-2zM878 413h2v1h-2zM718 414h3v1h-3zM880 414h1v1h-1zM713 415h5v1h-5zM881 415h2v1h-2zM709 416h4v1h-4zM883 416h2v1h-2zM707 417h2v1h-2zM885 417h2v1h-2zM704 418h3v1h-3zM887 418h2v1h-2zM702 419h2v1h-2zM889 419h2v1h-2zM700 420h2v1h-2zM891 420h1v1h-1zM698 421h2v1h-2zM892 421h2v1h-2zM696 422h2v1h-2zM894 422h2v1h-2zM694 423h2v1h-2zM896 423h2v1h-2zM599 424h29v1h-29zM691 424h3v1h-3zM898 424h2v1h-2zM592 425h7v1h-7zM628 425h8v1h-8zM689 425h2v1h-2zM900 425h2v1h-2zM589 426h3v1h-3zM636 426h8v1h-8zM686 426h3v1h-3zM902 426h3v1h-3zM585 427h4v1h-4zM644 427h4v1h-4zM684 427h2v1h-2zM905 427h2v1h-2zM582 428h3v1h-3zM648 428h3v1h-3zM681 428h3v1h-3zM907 428h3v1h-3zM578 429h4v1h-4zM651 429h4v1h-4zM678 429h3v1h-3zM910 429h3v1h-3zM496 430h18v1h-18zM574 430h4v1h-4zM655 430h4v1h-4zM674 430h4v1h-4zM913 430h3v1h-3zM492 431h4v1h-4zM514 431h2v1h-2zM570 431h4v1h-4zM659 431h15v1h-15zM916 431h9v1h-9zM5 432h12v1h-12zM488 432h4v1h-4zM516 432h3v1h-3zM567 432h3v1h-3zM925 432h1v1h-1zM17 433h2v1h-2zM484 433h4v1h-4zM519 433h3v1h-3zM564 433h3v1h-3zM19 434h3v1h-3zM475 434h9v1h-9zM522 434h3v1h-3zM561 434h3v1h-3zM22 435h2v1h-2zM195 435h10v1h-10zM471 435h4v1h-4zM525 435h2v1h-2zM558 435h3v1h-3zM24 436h15v1h-15zM191 436h4v1h-4zM205 436h3v1h-3zM305 436h12v1h-12zM468 436h3v1h-3zM527 436h3v1h-3zM555 436h3v1h-3zM39 437h6v1h-6zM188 437h3v1h-3zM208 437h3v1h-3zM303 437h2v1h-2zM317 437h2v1h-2zM464 437h4v1h-4zM530 437h4v1h-4zM551 437h4v1h-4zM45 438h10v1h-10zM186 438h2v1h-2zM211 438h2v1h-2zM302 438h1v1h-1zM319 438h2v1h-2zM460 438h4v1h-4zM534 438h7v1h-7zM547 438h4v1h-4zM55 439h11v1h-11zM184 439h2v1h-2zM213 439h2v1h-2zM300 439h2v1h-2zM321 439h3v1h-3zM455 439h5v1h-5zM541 439h6v1h-6zM66 440h7v1h-7zM183 440h1v1h-1zM215 440h2v1h-2zM299 440h1v1h-1zM324 440h3v1h-3zM451 440h4v1h-4zM73 441h4v1h-4zM181 441h2v1h-2zM217 441h3v1h-3zM297 441h2v1h-2zM327 441h2v1h-2zM448 441h3v1h-3zM77 442h11v1h-11zM179 442h2v1h-2zM220 442h3v1h-3zM295 442h2v1h-2zM329 442h3v1h-3zM444 442h4v1h-4zM88 443h2v1h-2zM178 443h1v1h-1zM223 443h2v1h-2zM294 443h1v1h-1zM332 443h2v1h-2zM409 443h35v1h-35zM90 444h2v1h-2zM176 444h2v1h-2zM225 444h3v1h-3zM292 444h2v1h-2zM334 444h2v1h-2zM400 444h9v1h-9zM92 445h3v1h-3zM175 445h1v1h-1zM228 445h4v1h-4zM290 445h2v1h-2zM336 445h2v1h-2zM395 445h5v1h-5zM95 446h4v1h-4zM173 446h2v1h-2zM232 446h3v1h-3zM288 446h2v1h-2zM338 446h2v1h-2zM393 446h2v1h-2zM99 447h4v1h-4zM126 447h20v1h-20zM171 447h2v1h-2zM235 447h8v1h-8zM285 447h3v1h-3zM340 447h4v1h-4zM390 447h3v1h-3zM103 448h4v1h-4zM121 448h5v1h-5zM146 448h2v1h-2zM168 448h3v1h-3zM243 448h22v1h-22zM281 448h4v1h-4zM344 448h3v1h-3zM388 448h2v1h-2zM107 449h14v1h-14zM148 449h7v1h-7zM163 449h5v1h-5zM265 449h16v1h-16zM347 449h6v1h-6zM385 449h3v1h-3zM155 450h8v1h-8zM353 450h6v1h-6zM383 450h2v1h-2zM359 451h4v1h-4zM380 451h3v1h-3zM363 452h17v1h-17z" fill="#ff0000"/>
<line x1="6" x2="1167" y1="481.5" y2="481.5" stroke="#c0c0c0" stroke-dasharray="3 3"/>
<line x1="6" x2="1167" y1="507.5" y2="507.5" stroke="#c0c0c0" stroke-dasharray="3 3"/>
<path d="M798 481h4v1h-4zM726 482h1v1h-1zM797 482h1v1h-1zM802 482h2v1h-2zM810 482h2v1h-2zM725 483h1v1h-1zM727 483h1v1h-1zM786 483h2v1h-2zM796 483h1v1h-1zM804 483h2v1h-2zM808 483h2v1h-2zM812 483h4v1h-4zM717 484h2v1h-2zM723 484h2v1h-2zM728 484h1v1h-1zM785 484h1v1h-1zM788 484h2v1h-2zM795 484h1v1h-1zM806 484h2v1h-2zM816 484h3v1h-3zM717 485h1v1h-1zM719 485h2v1h-2zM722 485h1v1h-1zM728 485h1v1h-1zM784 485h1v1h-1zM790 485h5v1h-5zM819 485h1v1h-1zM716 486h1v1h-1zM721 486h1v1h-1zM729 486h1v1h-1zM783 486h1v1h-1zM819 486h1v1h-1zM716 487h1v1h-1zM730 487h2v1h-2zM781 487h2v1h-2zM820 487h1v1h-1zM697 488h1v1h-1zM715 488h1v1h-1zM732 488h2v1h-2zM779 488h2v1h-2zM821 488h1v1h-1zM834 488h3v1h-3zM840 488h2v1h-2zM695 489h2v1h-2zM698 489h1v1h-1zM715 489h1v1h-1zM734 489h1v1h-1zM777 489h2v1h-2zM822 489h1v1h-1zM832 489h2v1h-2zM837 489h3v1h-3zM842 489h2v1h-2zM677 490h1v1h-1zM694 490h1v1h-1zM698 490h1v1h-1zM714 490h1v1h-1zM735 490h1v1h-1zM756 490h4v1h-4zM764 490h9v1h-9zM775 490h2v1h-2zM823 490h1v1h-1zM830 490h2v1h-2zM844 490h2v1h-2zM666 491h2v1h-2zM675 491h2v1h-2zM678 491h1v1h-1zM693 491h1v1h-1zM699 491h1v1h-1zM706 491h3v1h-3zM713 491h2v1h-2zM736 491h1v1h-1zM741 491h15v1h-15zM760 491h4v1h-4zM773 491h2v1h-2zM824 491h1v1h-1zM829 491h1v1h-1zM846 491h2v1h-2zM577 492h3v1h-3zM665 492h1v1h-1zM668 492h2v1h-2zM673 492h2v1h-2zM679 492h2v1h-2zM691 492h2v1h-2zM700 492h1v1h-1zM704 492h2v1h-2zM709 492h4v1h-4zM737 492h1v1h-1zM739 492h2v1h-2zM825 492h1v1h-1zM827 492h2v1h-2zM848 492h2v1h-2zM168 493h5v1h-5zM282 493h2v1h-2zM557 493h1v1h-1zM574 493h3v1h-3zM580 493h2v1h-2zM664 493h1v1h-1zM670 493h3v1h-3zM681 493h1v1h-1zM689 493h2v1h-2zM700 493h1v1h-1zM702 493h2v1h-2zM738 493h1v1h-1zM826 493h1v1h-1zM850 493h1v1h-1zM165 494h3v1h-3zM173 494h2v1h-2zM281 494h1v1h-1zM284 494h2v1h-2zM556 494h1v1h-1zM558 494h1v1h-1zM573 494h1v1h-1zM582 494h1v1h-1zM590 494h1v1h-1zM618 494h1v1h-1zM663 494h1v1h-1zM682 494h7v1h-7zM701 494h1v1h-1zM851 494h1v1h-1zM164 495h1v1h-1zM175 495h2v1h-2zM181 495h1v1h-1zM279 495h2v1h-2zM286 495h2v1h-2zM555 495h1v1h-1zM559 495h1v1h-1zM573 495h1v1h-1zM583 495h1v1h-1zM589 495h1v1h-1zM591 495h2v1h-2zM606 495h2v1h-2zM616 495h2v1h-2zM619 495h2v1h-2zM662 495h1v1h-1zM851 495h1v1h-1zM162 496h2v1h-2zM177 496h1v1h-1zM179 496h2v1h-2zM182 496h1v1h-1zM278 496h1v1h-1zM288 496h2v1h-2zM469 496h2v1h-2zM486 496h2v1h-2zM552 496h3v1h-3zM560 496h1v1h-1zM572 496h1v1h-1zM584 496h1v1h-1zM588 496h1v1h-1zM593 496h1v1h-1zM605 496h1v1h-1zM608 496h2v1h-2zM614 496h2v1h-2zM621 496h1v1h-1zM661 496h1v1h-1zM852 496h1v1h-1zM161 497h1v1h-1zM178 497h1v1h-1zM182 497h1v1h-1zM276 497h2v1h-2zM290 497h2v1h-2zM466 497h3v1h-3zM471 497h2v1h-2zM485 497h1v1h-1zM488 497h2v1h-2zM549 497h3v1h-3zM561 497h1v1h-1zM571 497h1v1h-1zM585 497h1v1h-1zM587 497h1v1h-1zM594 497h1v1h-1zM604 497h1v1h-1zM610 497h4v1h-4zM622 497h4v1h-4zM660 497h1v1h-1zM853 497h8v1h-8zM864 497h2v1h-2zM160 498h1v1h-1zM183 498h1v1h-1zM226 498h5v1h-5zM274 498h2v1h-2zM292 498h8v1h-8zM465 498h1v1h-1zM473 498h1v1h-1zM484 498h1v1h-1zM490 498h1v1h-1zM547 498h2v1h-2zM562 498h2v1h-2zM570 498h1v1h-1zM586 498h1v1h-1zM595 498h1v1h-1zM603 498h1v1h-1zM626 498h2v1h-2zM659 498h1v1h-1zM861 498h3v1h-3zM866 498h1v1h-1zM5 499h1v1h-1zM160 499h1v1h-1zM184 499h1v1h-1zM225 499h1v1h-1zM231 499h1v1h-1zM273 499h1v1h-1zM300 499h1v1h-1zM369 499h8v1h-8zM391 499h2v1h-2zM464 499h1v1h-1zM474 499h1v1h-1zM484 499h1v1h-1zM491 499h1v1h-1zM533 499h1v1h-1zM545 499h2v1h-2zM564 499h2v1h-2zM568 499h2v1h-2zM596 499h1v1h-1zM602 499h1v1h-1zM628 499h2v1h-2zM658 499h1v1h-1zM867 499h2v1h-2zM922 499h2v1h-2zM6 500h2v1h-2zM159 500h1v1h-1zM184 500h1v1h-1zM225 500h1v1h-1zM232 500h1v1h-1zM237 500h1v1h-1zM272 500h1v1h-1zM301 500h1v1h-1zM368 500h1v1h-1zM377 500h2v1h-2zM387 500h4v1h-4zM393 500h1v1h-1zM430 500h12v1h-12zM463 500h1v1h-1zM475 500h1v1h-1zM483 500h1v1h-1zM492 500h1v1h-1zM532 500h1v1h-1zM534 500h1v1h-1zM544 500h1v1h-1zM566 500h2v1h-2zM597 500h1v1h-1zM600 500h2v1h-2zM630 500h1v1h-1zM657 500h1v1h-1zM869 500h1v1h-1zM921 500h1v1h-1zM924 500h1v1h-1zM8 501h2v1h-2zM154 501h1v1h-1zM159 501h1v1h-1zM185 501h1v1h-1zM224 501h1v1h-1zM233 501h1v1h-1zM235 501h2v1h-2zM238 501h2v1h-2zM271 501h1v1h-1zM302 501h2v1h-2zM330 501h2v1h-2zM368 501h1v1h-1zM379 501h2v1h-2zM384 501h3v1h-3zM394 501h2v1h-2zM429 501h1v1h-1zM442 501h2v1h-2zM462 501h1v1h-1zM476 501h1v1h-1zM482 501h1v1h-1zM492 501h1v1h-1zM505 501h1v1h-1zM531 501h1v1h-1zM535 501h2v1h-2zM542 501h2v1h-2zM598 501h2v1h-2zM631 501h1v1h-1zM637 501h1v1h-1zM656 501h1v1h-1zM870 501h1v1h-1zM921 501h1v1h-1zM10 502h1v1h-1zM27 502h4v1h-4zM153 502h1v1h-1zM155 502h1v1h-1zM158 502h1v1h-1zM186 502h1v1h-1zM224 502h1v1h-1zM234 502h1v1h-1zM240 502h2v1h-2zM264 502h7v1h-7zM304 502h1v1h-1zM328 502h2v1h-2zM332 502h2v1h-2zM337 502h3v1h-3zM367 502h1v1h-1zM381 502h3v1h-3zM396 502h1v1h-1zM428 502h1v1h-1zM444 502h2v1h-2zM460 502h2v1h-2zM477 502h1v1h-1zM480 502h2v1h-2zM493 502h1v1h-1zM503 502h3v1h-3zM521 502h2v1h-2zM530 502h1v1h-1zM537 502h1v1h-1zM540 502h2v1h-2zM632 502h1v1h-1zM636 502h1v1h-1zM638 502h2v1h-2zM645 502h7v1h-7zM656 502h1v1h-1zM871 502h2v1h-2zM920 502h1v1h-1zM11 503h2v1h-2zM21 503h6v1h-6zM31 503h2v1h-2zM51 503h5v1h-5zM153 503h1v1h-1zM156 503h1v1h-1zM158 503h1v1h-1zM187 503h1v1h-1zM194 503h4v1h-4zM213 503h1v1h-1zM223 503h1v1h-1zM242 503h7v1h-7zM262 503h2v1h-2zM305 503h1v1h-1zM321 503h3v1h-3zM326 503h2v1h-2zM334 503h3v1h-3zM340 503h3v1h-3zM358 503h2v1h-2zM366 503h1v1h-1zM397 503h4v1h-4zM427 503h1v1h-1zM446 503h2v1h-2zM453 503h7v1h-7zM478 503h2v1h-2zM494 503h3v1h-3zM501 503h2v1h-2zM506 503h1v1h-1zM520 503h1v1h-1zM523 503h2v1h-2zM528 503h2v1h-2zM538 503h2v1h-2zM633 503h1v1h-1zM635 503h1v1h-1zM640 503h2v1h-2zM643 503h2v1h-2zM652 503h2v1h-2zM655 503h1v1h-1zM873 503h2v1h-2zM920 503h1v1h-1zM13 504h3v1h-3zM19 504h2v1h-2zM33 504h2v1h-2zM50 504h1v1h-1zM56 504h2v1h-2zM109 504h1v1h-1zM152 504h1v1h-1zM157 504h1v1h-1zM187 504h1v1h-1zM192 504h2v1h-2zM198 504h1v1h-1zM206 504h2v1h-2zM211 504h2v1h-2zM214 504h1v1h-1zM223 504h1v1h-1zM249 504h2v1h-2zM260 504h2v1h-2zM306 504h1v1h-1zM320 504h1v1h-1zM324 504h2v1h-2zM343 504h3v1h-3zM357 504h1v1h-1zM360 504h2v1h-2zM366 504h1v1h-1zM401 504h5v1h-5zM425 504h2v1h-2zM448 504h1v1h-1zM451 504h2v1h-2zM497 504h4v1h-4zM506 504h1v1h-1zM520 504h1v1h-1zM525 504h3v1h-3zM634 504h1v1h-1zM642 504h1v1h-1zM654 504h1v1h-1zM875 504h2v1h-2zM919 504h1v1h-1zM16 505h3v1h-3zM35 505h1v1h-1zM48 505h2v1h-2zM58 505h3v1h-3zM108 505h1v1h-1zM110 505h1v1h-1zM152 505h1v1h-1zM188 505h1v1h-1zM190 505h2v1h-2zM199 505h2v1h-2zM205 505h1v1h-1zM208 505h3v1h-3zM215 505h1v1h-1zM222 505h1v1h-1zM251 505h2v1h-2zM259 505h1v1h-1zM307 505h2v1h-2zM320 505h1v1h-1zM346 505h2v1h-2zM356 505h1v1h-1zM362 505h4v1h-4zM406 505h2v1h-2zM423 505h2v1h-2zM449 505h2v1h-2zM507 505h1v1h-1zM519 505h1v1h-1zM877 505h14v1h-14zM919 505h1v1h-1zM36 506h2v1h-2zM47 506h1v1h-1zM61 506h3v1h-3zM108 506h1v1h-1zM111 506h2v1h-2zM120 506h7v1h-7zM151 506h1v1h-1zM189 506h1v1h-1zM201 506h1v1h-1zM203 506h2v1h-2zM215 506h1v1h-1zM222 506h1v1h-1zM253 506h2v1h-2zM258 506h1v1h-1zM309 506h1v1h-1zM319 506h1v1h-1zM348 506h2v1h-2zM355 506h1v1h-1zM408 506h2v1h-2zM420 506h3v1h-3zM507 506h1v1h-1zM518 506h1v1h-1zM891 506h2v1h-2zM896 506h6v1h-6zM916 506h3v1h-3zM38 507h9v1h-9zM64 507h2v1h-2zM107 507h1v1h-1zM113 507h1v1h-1zM116 507h4v1h-4zM127 507h1v1h-1zM151 507h1v1h-1zM202 507h1v1h-1zM216 507h1v1h-1zM221 507h1v1h-1zM255 507h2v1h-2zM258 507h1v1h-1zM310 507h1v1h-1zM318 507h1v1h-1zM350 507h5v1h-5zM410 507h2v1h-2zM416 507h4v1h-4zM508 507h1v1h-1zM518 507h1v1h-1zM893 507h1v1h-1zM895 507h1v1h-1zM902 507h2v1h-2zM912 507h4v1h-4zM66 508h2v1h-2zM93 508h2v1h-2zM107 508h1v1h-1zM114 508h2v1h-2zM128 508h1v1h-1zM150 508h1v1h-1zM217 508h5v1h-5zM257 508h1v1h-1zM311 508h2v1h-2zM318 508h1v1h-1zM412 508h4v1h-4zM508 508h1v1h-1zM517 508h1v1h-1zM894 508h1v1h-1zM904 508h2v1h-2zM909 508h3v1h-3zM68 509h2v1h-2zM92 509h1v1h-1zM95 509h3v1h-3zM106 509h1v1h-1zM129 509h1v1h-1zM148 509h2v1h-2zM313 509h5v1h-5zM509 509h2v1h-2zM516 509h1v1h-1zM906 509h3v1h-3zM70 510h3v1h-3zM92 510h1v1h-1zM98 510h5v1h-5zM106 510h1v1h-1zM130 510h1v1h-1zM146 510h2v1h-2zM511 510h2v1h-2zM515 510h1v1h-1zM73 511h2v1h-2zM91 511h1v1h-1zM103 511h3v1h-3zM131 511h1v1h-1zM144 511h2v1h-2zM513 511h2v1h-2zM75 512h3v1h-3zM91 512h1v1h-1zM132 512h2v1h-2zM142 512h2v1h-2zM78 513h3v1h-3zM90 513h1v1h-1zM134 513h1v1h-1zM140 513h2v1h-2zM81 514h4v1h-4zM89 514h2v1h-2zM135 514h2v1h-2zM138 514h2v1h-2zM85 515h4v1h-4zM137 515h1v1h-1z" fill="#1e90ff"/>
<path d="M4.5 22.5H1167.5V388.5H4.5Z" fill="none" stroke="#000"/><path d="M4.5 390.5H1167.5V457.5H4.5Z" fill="none" stroke="#000"/><path d="M4.5 459.5H1167.5V528.5H4.5Z" fill="none" stroke="#000"/>
<rect x="4" y="162" width="6" height="6" fill="#ff0000"/><rect x="6" y="164" width="2" height="2" fill="#fff"/><rect x="1161" y="162" width="6" height="6" fill="#ff0000"/><rect x="1163" y="164" width="2" height="2" fill="#fff"/><rect x="4" y="242" width="6" height="6" fill="#ff0000"/><rect x="6" y="244" width="2" height="2" fill="#fff"/><rect x="1161" y="242" width="6" height="6" fill="#ff0000"/><rect x="1163" y="244" width="2" height="2" fill="#fff"/><rect x="4" y="305" width="6" height="6" fill="#00ff00"/><rect x="6" y="307" width="2" height="2" fill="#fff"/><rect x="1161" y="305" width="6" height="6" fill="#00ff00"/><rect x="1163" y="307" width="2" height="2" fill="#fff"/>
<rect x="1168" y="55" width="2" height="1" fill="#000"/><rect x="1168" y="88" width="2" height="1" fill="#000"/><rect x="1168" y="121" width="2" height="1" fill="#000"/><rect x="1168" y="154" width="2" height="1" fill="#000"/><rect x="1168" y="187" width="2" height="1" fill="#000"/><rect x="1168" y="220" width="2" height="1" fill="#000"/><rect x="1168" y="253" width="2" height="1" fill="#000"/><rect x="1168" y="286" width="2" height="1" fill="#000"/><rect x="1168" y="319" width="2" height="1" fill="#000"/><rect x="1168" y="352" width="2" height="1" fill="#000"/><rect x="1168" y="385" width="2" height="1" fill="#000"/><rect x="1168" y="392" width="2" height="1" fill="#000"/><rect x="1168" y="417" width="2" height="1" fill="#000"/><rect x="1168" y="456" width="2" height="1" fill="#000"/><rect x="1168" y="460" width="2" height="1" fill="#000"/><rect x="1168" y="527" width="2" height="1" fill="#000"/><rect x="5" y="528" width="1" height="4" fill="#000"/><rect x="69" y="528" width="1" height="4" fill="#000"/><rect x="133" y="528" width="1" height="4" fill="#000"/><rect x="197" y="528" width="1" height="4" fill="#000"/><rect x="261" y="528" width="1" height="4" fill="#000"/><rect x="325" y="528" width="1" height="4" fill="#000"/><rect x="389" y="528" width="1" height="4" fill="#000"/><rect x="453" y="528" width="1" height="4" fill="#000"/><rect x="517" y="528" width="1" height="4" fill="#000"/><rect x="581" y="528" width="1" height="4" fill="#000"/><rect x="645" y="528" width="1" height="4" fill="#000"/><rect x="709" y="528" width="1" height="4" fill="#000"/><rect x="773" y="528" width="1" height="4" fill="#000"/><rect x="837" y="528" width="1" height="4" fill="#000"/><rect x="901" y="528" width="1" height="4" fill="#000"/></svg>
<div class="t" style="left:1173px;top:50px;letter-spacing:-0.36px">6.94815</div><div class="t" style="left:1173px;top:83px;letter-spacing:-0.36px">6.89370</div><div class="t" style="left:1173px;top:116px;letter-spacing:-0.36px">6.83760</div><div class="t" style="left:1173px;top:149px;letter-spacing:-0.36px">6.78150</div><div class="t" style="left:1173px;top:182px;letter-spacing:-0.36px">6.72540</div><div class="t" style="left:1173px;top:215px;letter-spacing:-0.36px">6.66930</div><div class="t" style="left:1173px;top:248px;letter-spacing:-0.36px">6.61320</div><div class="t" style="left:1173px;top:281px;letter-spacing:-0.36px">6.55710</div><div class="t" style="left:1173px;top:314px;letter-spacing:-0.36px">6.50100</div><div class="t" style="left:1173px;top:347px;letter-spacing:-0.36px">6.44490</div><div class="t" style="left:1173px;top:380px;letter-spacing:-0.36px">6.39045</div><div class="t" style="left:1172px;top:392px;letter-spacing:-0.36px">0.025623</div><div class="t" style="left:1172px;top:412px;letter-spacing:-0.36px">0.00</div><div class="t" style="left:1172px;top:445px;letter-spacing:-0.36px">-0.040687</div><div class="t" style="left:1172px;top:461px;letter-spacing:-0.36px">100</div><div class="t" style="left:1170.5px;top:476px;letter-spacing:-0.36px">70</div><div class="t" style="left:1170.5px;top:502px;letter-spacing:-0.36px">30</div><div class="t" style="left:1172px;top:516px;letter-spacing:-0.36px">0</div><div class="pl" style="top:159px;background:#ff0000;color:#fff"><span>6.76234</span></div><div class="pl" style="top:239px;background:#ff0000;color:#fff"><span>6.62715</span></div><div class="pl" style="top:302px;background:#00ff00;color:#fff"><span>6.52069</span></div><div class="pl" style="top:327px;background:#000000;color:#fff"><span>6.47885</span></div><div class="pl" style="top:374px;background:#0000ff;color:#fff"><span>6.40071</span></div><div class="t" style="left:4px;top:532px;letter-spacing:-0.08px">8 Aug 2020</div><div class="t" style="left:68px;top:532px;letter-spacing:-0.08px">27 Aug 2020</div><div class="t" style="left:132px;top:532px;letter-spacing:-0.08px">15 Sep 2020</div><div class="t" style="left:196px;top:532px;letter-spacing:-0.08px">3 Oct 2020</div><div class="t" style="left:260px;top:532px;letter-spacing:-0.08px">22 Oct 2020</div><div class="t" style="left:324px;top:532px;letter-spacing:-0.08px">10 Nov 2020</div><div class="t" style="left:388px;top:532px;letter-spacing:-0.08px">28 Nov 2020</div><div class="t" style="left:452px;top:532px;letter-spacing:-0.08px">17 Dec 2020</div><div class="t" style="left:516px;top:532px;letter-spacing:-0.08px">6 Jan 2021</div><div class="t" style="left:580px;top:532px;letter-spacing:-0.08px">25 Jan 2021</div><div class="t" style="left:644px;top:532px;letter-spacing:-0.08px">12 Feb 2021</div><div class="t" style="left:708px;top:532px;letter-spacing:-0.08px">3 Mar 2021</div><div class="t" style="left:772px;top:532px;letter-spacing:-0.08px">22 Mar 2021</div><div class="t" style="left:836px;top:532px;letter-spacing:-0.08px">9 Apr 2021</div><div class="t" style="left:900px;top:532px;letter-spacing:-0.08px">28 Apr 2021</div><div class="t" style="left:20px;top:25px;letter-spacing:0.12px">USDCNH,Daily</div><div class="t" style="left:92px;top:25px;letter-spacing:-0.2px">6.48590 6.48604 6.47817 6.47885</div><div class="t" style="left:9px;top:394px;letter-spacing:-0.15px">MACD(12,26,9) -0.014542 -0.015400</div><div class="t" style="left:9px;top:463px;letter-spacing:-0.24px">RSI(14) 39.2147</div>

<div style="position:absolute;left:6px;top:40px;width:223px;height:68px;background:#fff"></div>
<div class="btn" style="left:8px;top:42px;width:52px;height:24px"><span style="left:12px;top:5px;transform:scaleX(0.82)">SELL</span></div>
<div class="btn" style="left:175px;top:42px;width:52px;height:24px"><span style="left:13.5px;top:5px;transform:scaleX(0.93)">BUY</span></div>
<div style="position:absolute;left:62px;top:42px;width:109px;height:20px;background:#fff;border:1px solid #b4b4b4"></div>
<div class="spb" style="left:64px;top:44px"></div>
<div class="spb" style="left:153px;top:44px"></div>
<div style="position:absolute;left:83px;top:43px;width:1px;height:20px;background:#b4b4b4"></div>
<div style="position:absolute;left:151px;top:43px;width:1px;height:20px;background:#b4b4b4"></div>
<svg style="position:absolute;left:69px;top:50px" width="8" height="6" viewBox="0 0 8 6"><path d="M0.8 1 H6.2 L3.5 4.2 Z" fill="#4a5fc4"/></svg>
<svg style="position:absolute;left:158px;top:50px" width="8" height="6" viewBox="0 0 8 6"><path d="M0.8 4.4 H6.2 L3.5 1.2 Z" fill="#4a5fc4"/></svg>
<div style="position:absolute;left:84px;top:45px;width:64px;height:16px;font-size:12.5px;line-height:16px;text-align:right;color:#000">3.00</div>
<div class="pp" style="left:8px;top:66px;width:109px;height:40px">
 <span class="s1" style="left:20px;top:20px">6.47</span><span class="s2" style="left:47px;top:1px">88</span><span class="s3" style="left:87px;top:5px">8</span>
</div>
<div class="pp" style="left:119px;top:66px;width:108px;height:40px">
 <span class="s1" style="left:19px;top:20px">6.48</span><span class="s2" style="left:46px;top:1px">08</span><span class="s3" style="left:86px;top:5px">8</span>
</div>
<div style="position:absolute;left:12px;top:65px;width:44px;height:1px;background:#1414b4"></div>
<div style="position:absolute;left:12px;top:66px;width:44px;height:1px;background:#8a8aff"></div>
<div style="position:absolute;left:179px;top:65px;width:44px;height:1px;background:#1414b4"></div>
<div style="position:absolute;left:179px;top:66px;width:44px;height:1px;background:#8a8aff"></div>

<div style="position:absolute;left:0;top:549px;width:1210px;height:2px;background:#e6e6e6"></div>
<div style="position:absolute;left:0;top:551px;width:1210px;height:1px;background:#000"></div>
<div class="tabs">
<div style="position:absolute;left:0;top:0;width:2px;height:19px;background:#a0a0a0"></div>
<span style="left:18px">EURUSD,Daily</span>
<div style="position:absolute;left:110px;top:4px;width:1px;height:13px;background:#808080"></div>
<span style="left:121px">AUDUSD,Daily</span>
<div style="position:absolute;left:214px;top:4px;width:1px;height:13px;background:#808080"></div>
<span style="left:224px">USDCHF,Daily</span>
<div style="position:absolute;left:314px;top:4px;width:1px;height:13px;background:#808080"></div>
<span style="left:325px">USDCAD,Daily</span>
<div style="position:absolute;left:418px;top:-1px;width:102px;height:18px;background:#fff;border:1px solid #000;border-top:none;box-shadow:1px 1px 0 #9a9a9a"></div>
<span style="left:428px;color:#000">USDCNH,Daily</span>
<span style="left:534px">UKOil,H1</span>
<div style="position:absolute;left:598px;top:4px;width:1px;height:13px;background:#808080"></div>
<div style="position:absolute;left:1183px;top:5px;width:0;height:0;border:3.5px solid transparent;border-right:4px solid #a0a0a0;border-left:none"></div>
<div style="position:absolute;left:1202px;top:5px;width:0;height:0;border:3.5px solid transparent;border-left:4px solid #a0a0a0;border-right:none"></div>
</div>
<div style="position:absolute;left:0;top:571px;width:1210px;height:3px;background:#fbfbfb"></div>
<div style="position:absolute;left:0;top:574px;width:1210px;height:2px;background:#b4b4b4"></div>
</body></html>
